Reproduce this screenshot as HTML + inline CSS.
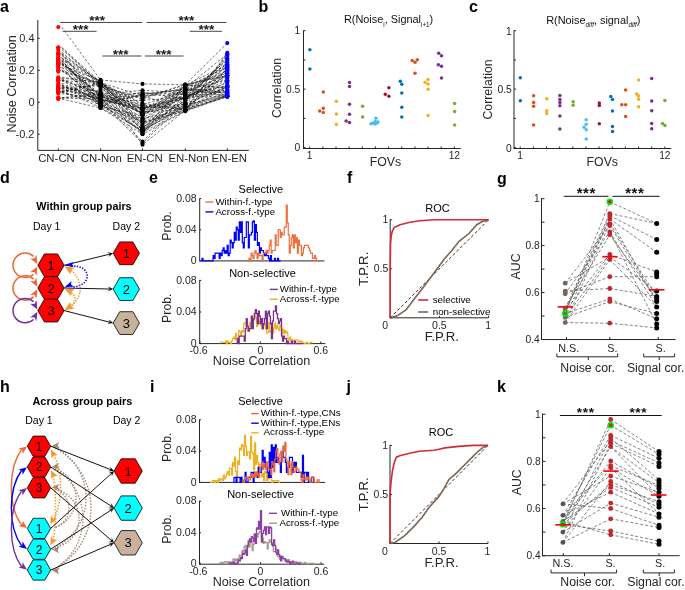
<!DOCTYPE html>
<html><head><meta charset="utf-8"><style>
html,body{margin:0;padding:0;background:#fff;}
svg{display:block;font-family:"Liberation Sans", sans-serif;will-change:transform;}
</style></head><body>
<svg width="685" height="590" viewBox="0 0 685 590">
<rect width="685" height="590" fill="#fff"/>
<text x="0.00" y="12.00" font-size="16" text-anchor="start" font-weight="bold" fill="#000" >a</text>
<polyline points="61.8,27.1 100.5,79.9 142.5,83.9 185.3,84.7 227.3,43.1" fill="none" stroke="#111" stroke-width="0.65" stroke-dasharray="2.6,1.8" opacity="0.9"/>
<polyline points="61.8,49.5 100.5,83.1 142.5,144.7 185.3,110.3 227.3,52.7" fill="none" stroke="#111" stroke-width="0.65" stroke-dasharray="2.6,1.8" opacity="0.9"/>
<polyline points="61.8,54.3 100.5,102.3 142.5,143.1 185.3,102.3 227.3,55.9" fill="none" stroke="#111" stroke-width="0.65" stroke-dasharray="2.6,1.8" opacity="0.9"/>
<polyline points="61.8,99.1 100.5,107.9 142.5,134.3 185.3,111.1 227.3,96.7" fill="none" stroke="#111" stroke-width="0.65" stroke-dasharray="2.6,1.8" opacity="0.9"/>
<polyline points="61.8,62.3 100.5,94.3 142.5,90.3 185.3,92.7 227.3,63.9" fill="none" stroke="#111" stroke-width="0.65" stroke-dasharray="2.6,1.8" opacity="0.9"/>
<polyline points="61.8,83.1 100.5,100.7 142.5,141.5 185.3,99.1 227.3,59.1" fill="none" stroke="#111" stroke-width="0.65" stroke-dasharray="2.6,1.8" opacity="0.9"/>
<polyline points="61.8,63.7 100.5,96.3 142.5,108.5 185.3,98.8 227.3,91.1" fill="none" stroke="#111" stroke-width="0.65" stroke-dasharray="2.6,1.8" opacity="0.9"/>
<polyline points="61.8,57.8 100.5,88.9 142.5,109.0 185.3,96.8 227.3,62.3" fill="none" stroke="#111" stroke-width="0.65" stroke-dasharray="2.6,1.8" opacity="0.9"/>
<polyline points="61.8,61.2 100.5,100.1 142.5,131.5 185.3,99.7 227.3,69.8" fill="none" stroke="#111" stroke-width="0.65" stroke-dasharray="2.6,1.8" opacity="0.9"/>
<polyline points="61.8,91.2 100.5,94.6 142.5,104.9 185.3,90.3 227.3,79.9" fill="none" stroke="#111" stroke-width="0.65" stroke-dasharray="2.6,1.8" opacity="0.9"/>
<polyline points="61.8,53.6 100.5,99.4 142.5,108.1 185.3,95.3 227.3,85.3" fill="none" stroke="#111" stroke-width="0.65" stroke-dasharray="2.6,1.8" opacity="0.9"/>
<polyline points="61.8,55.4 100.5,82.2 142.5,105.1 185.3,109.4 227.3,73.1" fill="none" stroke="#111" stroke-width="0.65" stroke-dasharray="2.6,1.8" opacity="0.9"/>
<polyline points="61.8,65.4 100.5,80.9 142.5,127.5 185.3,100.6 227.3,74.9" fill="none" stroke="#111" stroke-width="0.65" stroke-dasharray="2.6,1.8" opacity="0.9"/>
<polyline points="61.8,97.9 100.5,95.3 142.5,129.1 185.3,109.5 227.3,69.1" fill="none" stroke="#111" stroke-width="0.65" stroke-dasharray="2.6,1.8" opacity="0.9"/>
<polyline points="61.8,92.4 100.5,101.2 142.5,96.0 185.3,108.9 227.3,85.6" fill="none" stroke="#111" stroke-width="0.65" stroke-dasharray="2.6,1.8" opacity="0.9"/>
<polyline points="61.8,70.5 100.5,83.9 142.5,113.6 185.3,103.5 227.3,87.0" fill="none" stroke="#111" stroke-width="0.65" stroke-dasharray="2.6,1.8" opacity="0.9"/>
<polyline points="61.8,80.4 100.5,83.8 142.5,130.7 185.3,106.3 227.3,93.1" fill="none" stroke="#111" stroke-width="0.65" stroke-dasharray="2.6,1.8" opacity="0.9"/>
<polyline points="61.8,87.0 100.5,94.7 142.5,122.7 185.3,111.0 227.3,86.9" fill="none" stroke="#111" stroke-width="0.65" stroke-dasharray="2.6,1.8" opacity="0.9"/>
<polyline points="61.8,79.9 100.5,92.5 142.5,117.7 185.3,97.1 227.3,77.7" fill="none" stroke="#111" stroke-width="0.65" stroke-dasharray="2.6,1.8" opacity="0.9"/>
<polyline points="61.8,63.9 100.5,106.4 142.5,115.6 185.3,87.3 227.3,67.3" fill="none" stroke="#111" stroke-width="0.65" stroke-dasharray="2.6,1.8" opacity="0.9"/>
<polyline points="61.8,78.7 100.5,97.0 142.5,106.4 185.3,109.4 227.3,96.3" fill="none" stroke="#111" stroke-width="0.65" stroke-dasharray="2.6,1.8" opacity="0.9"/>
<polyline points="61.8,88.2 100.5,103.5 142.5,132.0 185.3,111.1 227.3,95.0" fill="none" stroke="#111" stroke-width="0.65" stroke-dasharray="2.6,1.8" opacity="0.9"/>
<polyline points="61.8,93.8 100.5,98.0 142.5,95.8 185.3,94.4 227.3,95.0" fill="none" stroke="#111" stroke-width="0.65" stroke-dasharray="2.6,1.8" opacity="0.9"/>
<polyline points="61.8,86.0 100.5,98.5 142.5,128.9 185.3,88.0 227.3,54.0" fill="none" stroke="#111" stroke-width="0.65" stroke-dasharray="2.6,1.8" opacity="0.9"/>
<polyline points="61.8,59.9 100.5,105.6 142.5,119.2 185.3,103.9 227.3,65.3" fill="none" stroke="#111" stroke-width="0.65" stroke-dasharray="2.6,1.8" opacity="0.9"/>
<polyline points="61.8,90.7 100.5,107.3 142.5,121.6 185.3,107.1 227.3,81.4" fill="none" stroke="#111" stroke-width="0.65" stroke-dasharray="2.6,1.8" opacity="0.9"/>
<polyline points="61.8,97.7 100.5,93.5 142.5,113.6 185.3,92.2 227.3,92.3" fill="none" stroke="#111" stroke-width="0.65" stroke-dasharray="2.6,1.8" opacity="0.9"/>
<polyline points="61.8,80.0 100.5,103.4 142.5,121.5 185.3,89.9 227.3,90.2" fill="none" stroke="#111" stroke-width="0.65" stroke-dasharray="2.6,1.8" opacity="0.9"/>
<polyline points="61.8,87.5 100.5,85.8 142.5,113.8 185.3,89.2 227.3,66.0" fill="none" stroke="#111" stroke-width="0.65" stroke-dasharray="2.6,1.8" opacity="0.9"/>
<polyline points="61.8,60.6 100.5,101.7 142.5,118.7 185.3,110.3 227.3,96.6" fill="none" stroke="#111" stroke-width="0.65" stroke-dasharray="2.6,1.8" opacity="0.9"/>
<polyline points="61.8,84.6 100.5,100.9 142.5,92.2 185.3,98.9 227.3,58.0" fill="none" stroke="#111" stroke-width="0.65" stroke-dasharray="2.6,1.8" opacity="0.9"/>
<polyline points="61.8,47.7 100.5,81.9 142.5,124.6 185.3,104.9 227.3,94.0" fill="none" stroke="#111" stroke-width="0.65" stroke-dasharray="2.6,1.8" opacity="0.9"/>
<polyline points="61.8,88.5 100.5,90.9 142.5,114.1 185.3,98.1 227.3,75.8" fill="none" stroke="#111" stroke-width="0.65" stroke-dasharray="2.6,1.8" opacity="0.9"/>
<polyline points="61.8,57.5 100.5,105.6 142.5,94.3 185.3,89.8 227.3,70.2" fill="none" stroke="#111" stroke-width="0.65" stroke-dasharray="2.6,1.8" opacity="0.9"/>
<polyline points="61.8,67.5 100.5,86.4 142.5,99.1 185.3,84.7 227.3,87.8" fill="none" stroke="#111" stroke-width="0.65" stroke-dasharray="2.6,1.8" opacity="0.9"/>
<polyline points="61.8,78.2 100.5,82.1 142.5,126.8 185.3,107.6 227.3,95.0" fill="none" stroke="#111" stroke-width="0.65" stroke-dasharray="2.6,1.8" opacity="0.9"/>
<polyline points="61.8,52.0 100.5,86.0 142.5,97.9 185.3,84.4 227.3,75.5" fill="none" stroke="#111" stroke-width="0.65" stroke-dasharray="2.6,1.8" opacity="0.9"/>
<polyline points="61.8,80.9 100.5,93.0 142.5,133.7 185.3,84.7 227.3,75.9" fill="none" stroke="#111" stroke-width="0.65" stroke-dasharray="2.6,1.8" opacity="0.9"/>
<polyline points="61.8,71.7 100.5,82.5 142.5,95.9 185.3,88.6 227.3,93.6" fill="none" stroke="#111" stroke-width="0.65" stroke-dasharray="2.6,1.8" opacity="0.9"/>
<polyline points="61.8,86.0 100.5,99.9 142.5,108.5 185.3,104.0 227.3,86.9" fill="none" stroke="#111" stroke-width="0.65" stroke-dasharray="2.6,1.8" opacity="0.9"/>
<polyline points="61.8,92.3 100.5,83.1 142.5,114.1 185.3,95.2 227.3,60.3" fill="none" stroke="#111" stroke-width="0.65" stroke-dasharray="2.6,1.8" opacity="0.9"/>
<polyline points="61.8,77.2 100.5,82.9 142.5,110.9 185.3,96.9 227.3,96.7" fill="none" stroke="#111" stroke-width="0.65" stroke-dasharray="2.6,1.8" opacity="0.9"/>
<polyline points="61.8,67.4 100.5,107.8 142.5,130.2 185.3,98.2 227.3,71.7" fill="none" stroke="#111" stroke-width="0.65" stroke-dasharray="2.6,1.8" opacity="0.9"/>
<polyline points="61.8,70.2 100.5,99.0 142.5,109.9 185.3,89.8 227.3,95.7" fill="none" stroke="#111" stroke-width="0.65" stroke-dasharray="2.6,1.8" opacity="0.9"/>
<polyline points="61.8,70.0 100.5,101.1 142.5,100.3 185.3,97.3 227.3,80.5" fill="none" stroke="#111" stroke-width="0.65" stroke-dasharray="2.6,1.8" opacity="0.9"/>
<polyline points="61.8,59.6 100.5,83.1 142.5,107.3 185.3,97.3 227.3,82.8" fill="none" stroke="#111" stroke-width="0.65" stroke-dasharray="2.6,1.8" opacity="0.9"/>
<polyline points="61.8,63.1 100.5,95.6 142.5,113.3 185.3,85.5 227.3,73.2" fill="none" stroke="#111" stroke-width="0.65" stroke-dasharray="2.6,1.8" opacity="0.9"/>
<polyline points="61.8,53.5 100.5,82.3 142.5,109.7 185.3,85.4 227.3,64.6" fill="none" stroke="#111" stroke-width="0.65" stroke-dasharray="2.6,1.8" opacity="0.9"/>
<polyline points="61.8,92.0 100.5,104.6 142.5,131.1 185.3,104.6 227.3,96.2" fill="none" stroke="#111" stroke-width="0.65" stroke-dasharray="2.6,1.8" opacity="0.9"/>
<polyline points="61.8,64.3 100.5,86.6 142.5,130.6 185.3,91.6 227.3,75.4" fill="none" stroke="#111" stroke-width="0.65" stroke-dasharray="2.6,1.8" opacity="0.9"/>
<polyline points="61.8,91.7 100.5,83.9 142.5,129.0 185.3,85.2 227.3,87.7" fill="none" stroke="#111" stroke-width="0.65" stroke-dasharray="2.6,1.8" opacity="0.9"/>
<polyline points="61.8,47.4 100.5,85.3 142.5,115.3 185.3,97.1 227.3,89.8" fill="none" stroke="#111" stroke-width="0.65" stroke-dasharray="2.6,1.8" opacity="0.9"/>
<polyline points="61.8,88.9 100.5,99.2 142.5,133.4 185.3,96.0 227.3,86.0" fill="none" stroke="#111" stroke-width="0.65" stroke-dasharray="2.6,1.8" opacity="0.9"/>
<polyline points="61.8,98.2 100.5,98.9 142.5,111.8 185.3,109.4 227.3,54.6" fill="none" stroke="#111" stroke-width="0.65" stroke-dasharray="2.6,1.8" opacity="0.9"/>
<polyline points="61.8,58.1 100.5,81.5 142.5,122.6 185.3,110.0 227.3,68.4" fill="none" stroke="#111" stroke-width="0.65" stroke-dasharray="2.6,1.8" opacity="0.9"/>
<polyline points="61.8,85.0 100.5,104.4 142.5,94.2 185.3,88.8 227.3,92.4" fill="none" stroke="#111" stroke-width="0.65" stroke-dasharray="2.6,1.8" opacity="0.9"/>
<polyline points="61.8,91.3 100.5,82.9 142.5,103.5 185.3,108.7 227.3,96.4" fill="none" stroke="#111" stroke-width="0.65" stroke-dasharray="2.6,1.8" opacity="0.9"/>
<polyline points="61.8,63.3 100.5,96.3 142.5,93.0 185.3,93.8 227.3,67.0" fill="none" stroke="#111" stroke-width="0.65" stroke-dasharray="2.6,1.8" opacity="0.9"/>
<circle cx="58.30" cy="27.10" r="2.05" fill="#ff0000" stroke="none" stroke-width="0"/>
<circle cx="58.30" cy="49.50" r="2.05" fill="#ff0000" stroke="none" stroke-width="0"/>
<circle cx="58.30" cy="54.30" r="2.05" fill="#ff0000" stroke="none" stroke-width="0"/>
<circle cx="58.30" cy="99.10" r="2.05" fill="#ff0000" stroke="none" stroke-width="0"/>
<circle cx="58.30" cy="62.30" r="2.05" fill="#ff0000" stroke="none" stroke-width="0"/>
<circle cx="58.30" cy="83.10" r="2.05" fill="#ff0000" stroke="none" stroke-width="0"/>
<circle cx="58.30" cy="63.72" r="2.05" fill="#ff0000" stroke="none" stroke-width="0"/>
<circle cx="58.30" cy="57.79" r="2.05" fill="#ff0000" stroke="none" stroke-width="0"/>
<circle cx="58.30" cy="61.17" r="2.05" fill="#ff0000" stroke="none" stroke-width="0"/>
<circle cx="58.30" cy="91.20" r="2.05" fill="#ff0000" stroke="none" stroke-width="0"/>
<circle cx="58.30" cy="53.58" r="2.05" fill="#ff0000" stroke="none" stroke-width="0"/>
<circle cx="58.30" cy="55.42" r="2.05" fill="#ff0000" stroke="none" stroke-width="0"/>
<circle cx="58.30" cy="65.45" r="2.05" fill="#ff0000" stroke="none" stroke-width="0"/>
<circle cx="58.30" cy="97.93" r="2.05" fill="#ff0000" stroke="none" stroke-width="0"/>
<circle cx="58.30" cy="92.37" r="2.05" fill="#ff0000" stroke="none" stroke-width="0"/>
<circle cx="58.30" cy="70.53" r="2.05" fill="#ff0000" stroke="none" stroke-width="0"/>
<circle cx="58.30" cy="80.44" r="2.05" fill="#ff0000" stroke="none" stroke-width="0"/>
<circle cx="58.30" cy="86.97" r="2.05" fill="#ff0000" stroke="none" stroke-width="0"/>
<circle cx="58.30" cy="79.90" r="2.05" fill="#ff0000" stroke="none" stroke-width="0"/>
<circle cx="58.30" cy="63.94" r="2.05" fill="#ff0000" stroke="none" stroke-width="0"/>
<circle cx="58.30" cy="78.70" r="2.05" fill="#ff0000" stroke="none" stroke-width="0"/>
<circle cx="58.30" cy="88.24" r="2.05" fill="#ff0000" stroke="none" stroke-width="0"/>
<circle cx="58.30" cy="93.82" r="2.05" fill="#ff0000" stroke="none" stroke-width="0"/>
<circle cx="58.30" cy="85.98" r="2.05" fill="#ff0000" stroke="none" stroke-width="0"/>
<circle cx="58.30" cy="59.90" r="2.05" fill="#ff0000" stroke="none" stroke-width="0"/>
<circle cx="58.30" cy="90.71" r="2.05" fill="#ff0000" stroke="none" stroke-width="0"/>
<circle cx="58.30" cy="97.69" r="2.05" fill="#ff0000" stroke="none" stroke-width="0"/>
<circle cx="58.30" cy="80.03" r="2.05" fill="#ff0000" stroke="none" stroke-width="0"/>
<circle cx="58.30" cy="87.50" r="2.05" fill="#ff0000" stroke="none" stroke-width="0"/>
<circle cx="58.30" cy="60.63" r="2.05" fill="#ff0000" stroke="none" stroke-width="0"/>
<circle cx="58.30" cy="84.57" r="2.05" fill="#ff0000" stroke="none" stroke-width="0"/>
<circle cx="58.30" cy="47.72" r="2.05" fill="#ff0000" stroke="none" stroke-width="0"/>
<circle cx="58.30" cy="88.47" r="2.05" fill="#ff0000" stroke="none" stroke-width="0"/>
<circle cx="58.30" cy="57.52" r="2.05" fill="#ff0000" stroke="none" stroke-width="0"/>
<circle cx="58.30" cy="67.47" r="2.05" fill="#ff0000" stroke="none" stroke-width="0"/>
<circle cx="58.30" cy="78.23" r="2.05" fill="#ff0000" stroke="none" stroke-width="0"/>
<circle cx="58.30" cy="52.05" r="2.05" fill="#ff0000" stroke="none" stroke-width="0"/>
<circle cx="58.30" cy="80.88" r="2.05" fill="#ff0000" stroke="none" stroke-width="0"/>
<circle cx="58.30" cy="71.72" r="2.05" fill="#ff0000" stroke="none" stroke-width="0"/>
<circle cx="58.30" cy="86.00" r="2.05" fill="#ff0000" stroke="none" stroke-width="0"/>
<circle cx="58.30" cy="92.28" r="2.05" fill="#ff0000" stroke="none" stroke-width="0"/>
<circle cx="58.30" cy="77.23" r="2.05" fill="#ff0000" stroke="none" stroke-width="0"/>
<circle cx="58.30" cy="67.36" r="2.05" fill="#ff0000" stroke="none" stroke-width="0"/>
<circle cx="58.30" cy="70.16" r="2.05" fill="#ff0000" stroke="none" stroke-width="0"/>
<circle cx="58.30" cy="69.96" r="2.05" fill="#ff0000" stroke="none" stroke-width="0"/>
<circle cx="58.30" cy="59.58" r="2.05" fill="#ff0000" stroke="none" stroke-width="0"/>
<circle cx="58.30" cy="63.08" r="2.05" fill="#ff0000" stroke="none" stroke-width="0"/>
<circle cx="58.30" cy="53.52" r="2.05" fill="#ff0000" stroke="none" stroke-width="0"/>
<circle cx="58.30" cy="91.97" r="2.05" fill="#ff0000" stroke="none" stroke-width="0"/>
<circle cx="58.30" cy="64.29" r="2.05" fill="#ff0000" stroke="none" stroke-width="0"/>
<circle cx="58.30" cy="91.67" r="2.05" fill="#ff0000" stroke="none" stroke-width="0"/>
<circle cx="58.30" cy="47.35" r="2.05" fill="#ff0000" stroke="none" stroke-width="0"/>
<circle cx="58.30" cy="88.92" r="2.05" fill="#ff0000" stroke="none" stroke-width="0"/>
<circle cx="58.30" cy="98.16" r="2.05" fill="#ff0000" stroke="none" stroke-width="0"/>
<circle cx="58.30" cy="58.11" r="2.05" fill="#ff0000" stroke="none" stroke-width="0"/>
<circle cx="58.30" cy="85.04" r="2.05" fill="#ff0000" stroke="none" stroke-width="0"/>
<circle cx="58.30" cy="91.33" r="2.05" fill="#ff0000" stroke="none" stroke-width="0"/>
<circle cx="58.30" cy="63.31" r="2.05" fill="#ff0000" stroke="none" stroke-width="0"/>
<circle cx="100.50" cy="79.90" r="2.05" fill="#000" stroke="none" stroke-width="0"/>
<circle cx="100.50" cy="83.10" r="2.05" fill="#000" stroke="none" stroke-width="0"/>
<circle cx="100.50" cy="102.30" r="2.05" fill="#000" stroke="none" stroke-width="0"/>
<circle cx="100.50" cy="107.90" r="2.05" fill="#000" stroke="none" stroke-width="0"/>
<circle cx="100.50" cy="94.30" r="2.05" fill="#000" stroke="none" stroke-width="0"/>
<circle cx="100.50" cy="100.70" r="2.05" fill="#000" stroke="none" stroke-width="0"/>
<circle cx="100.50" cy="96.27" r="2.05" fill="#000" stroke="none" stroke-width="0"/>
<circle cx="100.50" cy="88.89" r="2.05" fill="#000" stroke="none" stroke-width="0"/>
<circle cx="100.50" cy="100.07" r="2.05" fill="#000" stroke="none" stroke-width="0"/>
<circle cx="100.50" cy="94.60" r="2.05" fill="#000" stroke="none" stroke-width="0"/>
<circle cx="100.50" cy="99.37" r="2.05" fill="#000" stroke="none" stroke-width="0"/>
<circle cx="100.50" cy="82.20" r="2.05" fill="#000" stroke="none" stroke-width="0"/>
<circle cx="100.50" cy="80.89" r="2.05" fill="#000" stroke="none" stroke-width="0"/>
<circle cx="100.50" cy="95.34" r="2.05" fill="#000" stroke="none" stroke-width="0"/>
<circle cx="100.50" cy="101.16" r="2.05" fill="#000" stroke="none" stroke-width="0"/>
<circle cx="100.50" cy="83.87" r="2.05" fill="#000" stroke="none" stroke-width="0"/>
<circle cx="100.50" cy="83.85" r="2.05" fill="#000" stroke="none" stroke-width="0"/>
<circle cx="100.50" cy="94.71" r="2.05" fill="#000" stroke="none" stroke-width="0"/>
<circle cx="100.50" cy="92.50" r="2.05" fill="#000" stroke="none" stroke-width="0"/>
<circle cx="100.50" cy="106.43" r="2.05" fill="#000" stroke="none" stroke-width="0"/>
<circle cx="100.50" cy="97.05" r="2.05" fill="#000" stroke="none" stroke-width="0"/>
<circle cx="100.50" cy="103.49" r="2.05" fill="#000" stroke="none" stroke-width="0"/>
<circle cx="100.50" cy="98.01" r="2.05" fill="#000" stroke="none" stroke-width="0"/>
<circle cx="100.50" cy="98.45" r="2.05" fill="#000" stroke="none" stroke-width="0"/>
<circle cx="100.50" cy="105.56" r="2.05" fill="#000" stroke="none" stroke-width="0"/>
<circle cx="100.50" cy="107.27" r="2.05" fill="#000" stroke="none" stroke-width="0"/>
<circle cx="100.50" cy="93.54" r="2.05" fill="#000" stroke="none" stroke-width="0"/>
<circle cx="100.50" cy="103.36" r="2.05" fill="#000" stroke="none" stroke-width="0"/>
<circle cx="100.50" cy="85.83" r="2.05" fill="#000" stroke="none" stroke-width="0"/>
<circle cx="100.50" cy="101.73" r="2.05" fill="#000" stroke="none" stroke-width="0"/>
<circle cx="100.50" cy="100.85" r="2.05" fill="#000" stroke="none" stroke-width="0"/>
<circle cx="100.50" cy="81.92" r="2.05" fill="#000" stroke="none" stroke-width="0"/>
<circle cx="100.50" cy="90.93" r="2.05" fill="#000" stroke="none" stroke-width="0"/>
<circle cx="100.50" cy="105.59" r="2.05" fill="#000" stroke="none" stroke-width="0"/>
<circle cx="100.50" cy="86.44" r="2.05" fill="#000" stroke="none" stroke-width="0"/>
<circle cx="100.50" cy="82.15" r="2.05" fill="#000" stroke="none" stroke-width="0"/>
<circle cx="100.50" cy="85.96" r="2.05" fill="#000" stroke="none" stroke-width="0"/>
<circle cx="100.50" cy="92.98" r="2.05" fill="#000" stroke="none" stroke-width="0"/>
<circle cx="100.50" cy="82.51" r="2.05" fill="#000" stroke="none" stroke-width="0"/>
<circle cx="100.50" cy="99.93" r="2.05" fill="#000" stroke="none" stroke-width="0"/>
<circle cx="100.50" cy="83.15" r="2.05" fill="#000" stroke="none" stroke-width="0"/>
<circle cx="100.50" cy="82.94" r="2.05" fill="#000" stroke="none" stroke-width="0"/>
<circle cx="100.50" cy="107.79" r="2.05" fill="#000" stroke="none" stroke-width="0"/>
<circle cx="100.50" cy="99.03" r="2.05" fill="#000" stroke="none" stroke-width="0"/>
<circle cx="100.50" cy="101.14" r="2.05" fill="#000" stroke="none" stroke-width="0"/>
<circle cx="100.50" cy="83.08" r="2.05" fill="#000" stroke="none" stroke-width="0"/>
<circle cx="100.50" cy="95.60" r="2.05" fill="#000" stroke="none" stroke-width="0"/>
<circle cx="100.50" cy="82.27" r="2.05" fill="#000" stroke="none" stroke-width="0"/>
<circle cx="100.50" cy="104.59" r="2.05" fill="#000" stroke="none" stroke-width="0"/>
<circle cx="100.50" cy="86.58" r="2.05" fill="#000" stroke="none" stroke-width="0"/>
<circle cx="100.50" cy="83.89" r="2.05" fill="#000" stroke="none" stroke-width="0"/>
<circle cx="100.50" cy="85.26" r="2.05" fill="#000" stroke="none" stroke-width="0"/>
<circle cx="100.50" cy="99.24" r="2.05" fill="#000" stroke="none" stroke-width="0"/>
<circle cx="100.50" cy="98.88" r="2.05" fill="#000" stroke="none" stroke-width="0"/>
<circle cx="100.50" cy="81.47" r="2.05" fill="#000" stroke="none" stroke-width="0"/>
<circle cx="100.50" cy="104.38" r="2.05" fill="#000" stroke="none" stroke-width="0"/>
<circle cx="100.50" cy="82.90" r="2.05" fill="#000" stroke="none" stroke-width="0"/>
<circle cx="100.50" cy="96.33" r="2.05" fill="#000" stroke="none" stroke-width="0"/>
<circle cx="142.50" cy="83.90" r="2.05" fill="#000" stroke="none" stroke-width="0"/>
<circle cx="142.50" cy="144.70" r="2.05" fill="#000" stroke="none" stroke-width="0"/>
<circle cx="142.50" cy="143.10" r="2.05" fill="#000" stroke="none" stroke-width="0"/>
<circle cx="142.50" cy="134.30" r="2.05" fill="#000" stroke="none" stroke-width="0"/>
<circle cx="142.50" cy="90.30" r="2.05" fill="#000" stroke="none" stroke-width="0"/>
<circle cx="142.50" cy="141.50" r="2.05" fill="#000" stroke="none" stroke-width="0"/>
<circle cx="142.50" cy="108.54" r="2.05" fill="#000" stroke="none" stroke-width="0"/>
<circle cx="142.50" cy="109.03" r="2.05" fill="#000" stroke="none" stroke-width="0"/>
<circle cx="142.50" cy="131.47" r="2.05" fill="#000" stroke="none" stroke-width="0"/>
<circle cx="142.50" cy="104.90" r="2.05" fill="#000" stroke="none" stroke-width="0"/>
<circle cx="142.50" cy="108.15" r="2.05" fill="#000" stroke="none" stroke-width="0"/>
<circle cx="142.50" cy="105.08" r="2.05" fill="#000" stroke="none" stroke-width="0"/>
<circle cx="142.50" cy="127.47" r="2.05" fill="#000" stroke="none" stroke-width="0"/>
<circle cx="142.50" cy="129.15" r="2.05" fill="#000" stroke="none" stroke-width="0"/>
<circle cx="142.50" cy="95.96" r="2.05" fill="#000" stroke="none" stroke-width="0"/>
<circle cx="142.50" cy="113.56" r="2.05" fill="#000" stroke="none" stroke-width="0"/>
<circle cx="142.50" cy="130.68" r="2.05" fill="#000" stroke="none" stroke-width="0"/>
<circle cx="142.50" cy="122.74" r="2.05" fill="#000" stroke="none" stroke-width="0"/>
<circle cx="142.50" cy="117.73" r="2.05" fill="#000" stroke="none" stroke-width="0"/>
<circle cx="142.50" cy="115.58" r="2.05" fill="#000" stroke="none" stroke-width="0"/>
<circle cx="142.50" cy="106.39" r="2.05" fill="#000" stroke="none" stroke-width="0"/>
<circle cx="142.50" cy="131.99" r="2.05" fill="#000" stroke="none" stroke-width="0"/>
<circle cx="142.50" cy="95.83" r="2.05" fill="#000" stroke="none" stroke-width="0"/>
<circle cx="142.50" cy="128.89" r="2.05" fill="#000" stroke="none" stroke-width="0"/>
<circle cx="142.50" cy="119.22" r="2.05" fill="#000" stroke="none" stroke-width="0"/>
<circle cx="142.50" cy="121.62" r="2.05" fill="#000" stroke="none" stroke-width="0"/>
<circle cx="142.50" cy="113.58" r="2.05" fill="#000" stroke="none" stroke-width="0"/>
<circle cx="142.50" cy="121.52" r="2.05" fill="#000" stroke="none" stroke-width="0"/>
<circle cx="142.50" cy="113.84" r="2.05" fill="#000" stroke="none" stroke-width="0"/>
<circle cx="142.50" cy="118.66" r="2.05" fill="#000" stroke="none" stroke-width="0"/>
<circle cx="142.50" cy="92.21" r="2.05" fill="#000" stroke="none" stroke-width="0"/>
<circle cx="142.50" cy="124.60" r="2.05" fill="#000" stroke="none" stroke-width="0"/>
<circle cx="142.50" cy="114.13" r="2.05" fill="#000" stroke="none" stroke-width="0"/>
<circle cx="142.50" cy="94.27" r="2.05" fill="#000" stroke="none" stroke-width="0"/>
<circle cx="142.50" cy="99.06" r="2.05" fill="#000" stroke="none" stroke-width="0"/>
<circle cx="142.50" cy="126.82" r="2.05" fill="#000" stroke="none" stroke-width="0"/>
<circle cx="142.50" cy="97.93" r="2.05" fill="#000" stroke="none" stroke-width="0"/>
<circle cx="142.50" cy="133.67" r="2.05" fill="#000" stroke="none" stroke-width="0"/>
<circle cx="142.50" cy="95.94" r="2.05" fill="#000" stroke="none" stroke-width="0"/>
<circle cx="142.50" cy="108.50" r="2.05" fill="#000" stroke="none" stroke-width="0"/>
<circle cx="142.50" cy="114.14" r="2.05" fill="#000" stroke="none" stroke-width="0"/>
<circle cx="142.50" cy="110.90" r="2.05" fill="#000" stroke="none" stroke-width="0"/>
<circle cx="142.50" cy="130.16" r="2.05" fill="#000" stroke="none" stroke-width="0"/>
<circle cx="142.50" cy="109.86" r="2.05" fill="#000" stroke="none" stroke-width="0"/>
<circle cx="142.50" cy="100.32" r="2.05" fill="#000" stroke="none" stroke-width="0"/>
<circle cx="142.50" cy="107.35" r="2.05" fill="#000" stroke="none" stroke-width="0"/>
<circle cx="142.50" cy="113.27" r="2.05" fill="#000" stroke="none" stroke-width="0"/>
<circle cx="142.50" cy="109.68" r="2.05" fill="#000" stroke="none" stroke-width="0"/>
<circle cx="142.50" cy="131.11" r="2.05" fill="#000" stroke="none" stroke-width="0"/>
<circle cx="142.50" cy="130.59" r="2.05" fill="#000" stroke="none" stroke-width="0"/>
<circle cx="142.50" cy="129.03" r="2.05" fill="#000" stroke="none" stroke-width="0"/>
<circle cx="142.50" cy="115.31" r="2.05" fill="#000" stroke="none" stroke-width="0"/>
<circle cx="142.50" cy="133.44" r="2.05" fill="#000" stroke="none" stroke-width="0"/>
<circle cx="142.50" cy="111.76" r="2.05" fill="#000" stroke="none" stroke-width="0"/>
<circle cx="142.50" cy="122.62" r="2.05" fill="#000" stroke="none" stroke-width="0"/>
<circle cx="142.50" cy="94.20" r="2.05" fill="#000" stroke="none" stroke-width="0"/>
<circle cx="142.50" cy="103.48" r="2.05" fill="#000" stroke="none" stroke-width="0"/>
<circle cx="142.50" cy="93.01" r="2.05" fill="#000" stroke="none" stroke-width="0"/>
<circle cx="185.30" cy="84.70" r="2.05" fill="#000" stroke="none" stroke-width="0"/>
<circle cx="185.30" cy="110.30" r="2.05" fill="#000" stroke="none" stroke-width="0"/>
<circle cx="185.30" cy="102.30" r="2.05" fill="#000" stroke="none" stroke-width="0"/>
<circle cx="185.30" cy="111.10" r="2.05" fill="#000" stroke="none" stroke-width="0"/>
<circle cx="185.30" cy="92.70" r="2.05" fill="#000" stroke="none" stroke-width="0"/>
<circle cx="185.30" cy="99.10" r="2.05" fill="#000" stroke="none" stroke-width="0"/>
<circle cx="185.30" cy="98.77" r="2.05" fill="#000" stroke="none" stroke-width="0"/>
<circle cx="185.30" cy="96.81" r="2.05" fill="#000" stroke="none" stroke-width="0"/>
<circle cx="185.30" cy="99.73" r="2.05" fill="#000" stroke="none" stroke-width="0"/>
<circle cx="185.30" cy="90.30" r="2.05" fill="#000" stroke="none" stroke-width="0"/>
<circle cx="185.30" cy="95.33" r="2.05" fill="#000" stroke="none" stroke-width="0"/>
<circle cx="185.30" cy="109.45" r="2.05" fill="#000" stroke="none" stroke-width="0"/>
<circle cx="185.30" cy="100.61" r="2.05" fill="#000" stroke="none" stroke-width="0"/>
<circle cx="185.30" cy="109.50" r="2.05" fill="#000" stroke="none" stroke-width="0"/>
<circle cx="185.30" cy="108.91" r="2.05" fill="#000" stroke="none" stroke-width="0"/>
<circle cx="185.30" cy="103.53" r="2.05" fill="#000" stroke="none" stroke-width="0"/>
<circle cx="185.30" cy="106.31" r="2.05" fill="#000" stroke="none" stroke-width="0"/>
<circle cx="185.30" cy="110.99" r="2.05" fill="#000" stroke="none" stroke-width="0"/>
<circle cx="185.30" cy="97.08" r="2.05" fill="#000" stroke="none" stroke-width="0"/>
<circle cx="185.30" cy="87.31" r="2.05" fill="#000" stroke="none" stroke-width="0"/>
<circle cx="185.30" cy="109.41" r="2.05" fill="#000" stroke="none" stroke-width="0"/>
<circle cx="185.30" cy="111.09" r="2.05" fill="#000" stroke="none" stroke-width="0"/>
<circle cx="185.30" cy="94.40" r="2.05" fill="#000" stroke="none" stroke-width="0"/>
<circle cx="185.30" cy="88.01" r="2.05" fill="#000" stroke="none" stroke-width="0"/>
<circle cx="185.30" cy="103.90" r="2.05" fill="#000" stroke="none" stroke-width="0"/>
<circle cx="185.30" cy="107.11" r="2.05" fill="#000" stroke="none" stroke-width="0"/>
<circle cx="185.30" cy="92.16" r="2.05" fill="#000" stroke="none" stroke-width="0"/>
<circle cx="185.30" cy="89.91" r="2.05" fill="#000" stroke="none" stroke-width="0"/>
<circle cx="185.30" cy="89.17" r="2.05" fill="#000" stroke="none" stroke-width="0"/>
<circle cx="185.30" cy="110.31" r="2.05" fill="#000" stroke="none" stroke-width="0"/>
<circle cx="185.30" cy="98.94" r="2.05" fill="#000" stroke="none" stroke-width="0"/>
<circle cx="185.30" cy="104.93" r="2.05" fill="#000" stroke="none" stroke-width="0"/>
<circle cx="185.30" cy="98.06" r="2.05" fill="#000" stroke="none" stroke-width="0"/>
<circle cx="185.30" cy="89.82" r="2.05" fill="#000" stroke="none" stroke-width="0"/>
<circle cx="185.30" cy="84.67" r="2.05" fill="#000" stroke="none" stroke-width="0"/>
<circle cx="185.30" cy="107.64" r="2.05" fill="#000" stroke="none" stroke-width="0"/>
<circle cx="185.30" cy="84.44" r="2.05" fill="#000" stroke="none" stroke-width="0"/>
<circle cx="185.30" cy="84.69" r="2.05" fill="#000" stroke="none" stroke-width="0"/>
<circle cx="185.30" cy="88.63" r="2.05" fill="#000" stroke="none" stroke-width="0"/>
<circle cx="185.30" cy="104.05" r="2.05" fill="#000" stroke="none" stroke-width="0"/>
<circle cx="185.30" cy="95.23" r="2.05" fill="#000" stroke="none" stroke-width="0"/>
<circle cx="185.30" cy="96.86" r="2.05" fill="#000" stroke="none" stroke-width="0"/>
<circle cx="185.30" cy="98.22" r="2.05" fill="#000" stroke="none" stroke-width="0"/>
<circle cx="185.30" cy="89.77" r="2.05" fill="#000" stroke="none" stroke-width="0"/>
<circle cx="185.30" cy="97.29" r="2.05" fill="#000" stroke="none" stroke-width="0"/>
<circle cx="185.30" cy="97.35" r="2.05" fill="#000" stroke="none" stroke-width="0"/>
<circle cx="185.30" cy="85.49" r="2.05" fill="#000" stroke="none" stroke-width="0"/>
<circle cx="185.30" cy="85.44" r="2.05" fill="#000" stroke="none" stroke-width="0"/>
<circle cx="185.30" cy="104.55" r="2.05" fill="#000" stroke="none" stroke-width="0"/>
<circle cx="185.30" cy="91.62" r="2.05" fill="#000" stroke="none" stroke-width="0"/>
<circle cx="185.30" cy="85.19" r="2.05" fill="#000" stroke="none" stroke-width="0"/>
<circle cx="185.30" cy="97.08" r="2.05" fill="#000" stroke="none" stroke-width="0"/>
<circle cx="185.30" cy="96.03" r="2.05" fill="#000" stroke="none" stroke-width="0"/>
<circle cx="185.30" cy="109.35" r="2.05" fill="#000" stroke="none" stroke-width="0"/>
<circle cx="185.30" cy="110.02" r="2.05" fill="#000" stroke="none" stroke-width="0"/>
<circle cx="185.30" cy="88.82" r="2.05" fill="#000" stroke="none" stroke-width="0"/>
<circle cx="185.30" cy="108.67" r="2.05" fill="#000" stroke="none" stroke-width="0"/>
<circle cx="185.30" cy="93.84" r="2.05" fill="#000" stroke="none" stroke-width="0"/>
<circle cx="227.30" cy="43.10" r="2.05" fill="#0000ff" stroke="none" stroke-width="0"/>
<circle cx="227.30" cy="52.70" r="2.05" fill="#0000ff" stroke="none" stroke-width="0"/>
<circle cx="227.30" cy="55.90" r="2.05" fill="#0000ff" stroke="none" stroke-width="0"/>
<circle cx="227.30" cy="96.70" r="2.05" fill="#0000ff" stroke="none" stroke-width="0"/>
<circle cx="227.30" cy="63.90" r="2.05" fill="#0000ff" stroke="none" stroke-width="0"/>
<circle cx="227.30" cy="59.10" r="2.05" fill="#0000ff" stroke="none" stroke-width="0"/>
<circle cx="227.30" cy="91.13" r="2.05" fill="#0000ff" stroke="none" stroke-width="0"/>
<circle cx="227.30" cy="62.26" r="2.05" fill="#0000ff" stroke="none" stroke-width="0"/>
<circle cx="227.30" cy="69.78" r="2.05" fill="#0000ff" stroke="none" stroke-width="0"/>
<circle cx="227.30" cy="79.94" r="2.05" fill="#0000ff" stroke="none" stroke-width="0"/>
<circle cx="227.30" cy="85.32" r="2.05" fill="#0000ff" stroke="none" stroke-width="0"/>
<circle cx="227.30" cy="73.06" r="2.05" fill="#0000ff" stroke="none" stroke-width="0"/>
<circle cx="227.30" cy="74.91" r="2.05" fill="#0000ff" stroke="none" stroke-width="0"/>
<circle cx="227.30" cy="69.11" r="2.05" fill="#0000ff" stroke="none" stroke-width="0"/>
<circle cx="227.30" cy="85.62" r="2.05" fill="#0000ff" stroke="none" stroke-width="0"/>
<circle cx="227.30" cy="87.00" r="2.05" fill="#0000ff" stroke="none" stroke-width="0"/>
<circle cx="227.30" cy="93.10" r="2.05" fill="#0000ff" stroke="none" stroke-width="0"/>
<circle cx="227.30" cy="86.86" r="2.05" fill="#0000ff" stroke="none" stroke-width="0"/>
<circle cx="227.30" cy="77.66" r="2.05" fill="#0000ff" stroke="none" stroke-width="0"/>
<circle cx="227.30" cy="67.27" r="2.05" fill="#0000ff" stroke="none" stroke-width="0"/>
<circle cx="227.30" cy="96.26" r="2.05" fill="#0000ff" stroke="none" stroke-width="0"/>
<circle cx="227.30" cy="94.96" r="2.05" fill="#0000ff" stroke="none" stroke-width="0"/>
<circle cx="227.30" cy="95.01" r="2.05" fill="#0000ff" stroke="none" stroke-width="0"/>
<circle cx="227.30" cy="54.01" r="2.05" fill="#0000ff" stroke="none" stroke-width="0"/>
<circle cx="227.30" cy="65.30" r="2.05" fill="#0000ff" stroke="none" stroke-width="0"/>
<circle cx="227.30" cy="81.39" r="2.05" fill="#0000ff" stroke="none" stroke-width="0"/>
<circle cx="227.30" cy="92.29" r="2.05" fill="#0000ff" stroke="none" stroke-width="0"/>
<circle cx="227.30" cy="90.15" r="2.05" fill="#0000ff" stroke="none" stroke-width="0"/>
<circle cx="227.30" cy="65.98" r="2.05" fill="#0000ff" stroke="none" stroke-width="0"/>
<circle cx="227.30" cy="96.60" r="2.05" fill="#0000ff" stroke="none" stroke-width="0"/>
<circle cx="227.30" cy="58.02" r="2.05" fill="#0000ff" stroke="none" stroke-width="0"/>
<circle cx="227.30" cy="93.98" r="2.05" fill="#0000ff" stroke="none" stroke-width="0"/>
<circle cx="227.30" cy="75.77" r="2.05" fill="#0000ff" stroke="none" stroke-width="0"/>
<circle cx="227.30" cy="70.20" r="2.05" fill="#0000ff" stroke="none" stroke-width="0"/>
<circle cx="227.30" cy="87.76" r="2.05" fill="#0000ff" stroke="none" stroke-width="0"/>
<circle cx="227.30" cy="94.96" r="2.05" fill="#0000ff" stroke="none" stroke-width="0"/>
<circle cx="227.30" cy="75.53" r="2.05" fill="#0000ff" stroke="none" stroke-width="0"/>
<circle cx="227.30" cy="75.95" r="2.05" fill="#0000ff" stroke="none" stroke-width="0"/>
<circle cx="227.30" cy="93.63" r="2.05" fill="#0000ff" stroke="none" stroke-width="0"/>
<circle cx="227.30" cy="86.85" r="2.05" fill="#0000ff" stroke="none" stroke-width="0"/>
<circle cx="227.30" cy="60.29" r="2.05" fill="#0000ff" stroke="none" stroke-width="0"/>
<circle cx="227.30" cy="96.65" r="2.05" fill="#0000ff" stroke="none" stroke-width="0"/>
<circle cx="227.30" cy="71.68" r="2.05" fill="#0000ff" stroke="none" stroke-width="0"/>
<circle cx="227.30" cy="95.75" r="2.05" fill="#0000ff" stroke="none" stroke-width="0"/>
<circle cx="227.30" cy="80.49" r="2.05" fill="#0000ff" stroke="none" stroke-width="0"/>
<circle cx="227.30" cy="82.85" r="2.05" fill="#0000ff" stroke="none" stroke-width="0"/>
<circle cx="227.30" cy="73.19" r="2.05" fill="#0000ff" stroke="none" stroke-width="0"/>
<circle cx="227.30" cy="64.58" r="2.05" fill="#0000ff" stroke="none" stroke-width="0"/>
<circle cx="227.30" cy="96.19" r="2.05" fill="#0000ff" stroke="none" stroke-width="0"/>
<circle cx="227.30" cy="75.37" r="2.05" fill="#0000ff" stroke="none" stroke-width="0"/>
<circle cx="227.30" cy="87.67" r="2.05" fill="#0000ff" stroke="none" stroke-width="0"/>
<circle cx="227.30" cy="89.83" r="2.05" fill="#0000ff" stroke="none" stroke-width="0"/>
<circle cx="227.30" cy="85.98" r="2.05" fill="#0000ff" stroke="none" stroke-width="0"/>
<circle cx="227.30" cy="54.59" r="2.05" fill="#0000ff" stroke="none" stroke-width="0"/>
<circle cx="227.30" cy="68.45" r="2.05" fill="#0000ff" stroke="none" stroke-width="0"/>
<circle cx="227.30" cy="92.37" r="2.05" fill="#0000ff" stroke="none" stroke-width="0"/>
<circle cx="227.30" cy="96.36" r="2.05" fill="#0000ff" stroke="none" stroke-width="0"/>
<circle cx="227.30" cy="67.04" r="2.05" fill="#0000ff" stroke="none" stroke-width="0"/>
<line x1="37.80" y1="20.00" x2="37.80" y2="150.40" stroke="#262626" stroke-width="1" />
<line x1="37.80" y1="150.40" x2="248.80" y2="150.40" stroke="#262626" stroke-width="1" />
<line x1="37.80" y1="134.30" x2="39.80" y2="134.30" stroke="#262626" stroke-width="1" />
<text x="34.50" y="138.20" font-size="11" text-anchor="end" font-weight="normal" fill="#262626" >-0.2</text>
<line x1="37.80" y1="102.30" x2="39.80" y2="102.30" stroke="#262626" stroke-width="1" />
<text x="34.50" y="106.20" font-size="11" text-anchor="end" font-weight="normal" fill="#262626" >0</text>
<line x1="37.80" y1="70.30" x2="39.80" y2="70.30" stroke="#262626" stroke-width="1" />
<text x="34.50" y="74.20" font-size="11" text-anchor="end" font-weight="normal" fill="#262626" >0.2</text>
<line x1="37.80" y1="38.30" x2="39.80" y2="38.30" stroke="#262626" stroke-width="1" />
<text x="34.50" y="42.20" font-size="11" text-anchor="end" font-weight="normal" fill="#262626" >0.4</text>
<line x1="58.30" y1="150.40" x2="58.30" y2="148.40" stroke="#262626" stroke-width="1" />
<line x1="100.50" y1="150.40" x2="100.50" y2="148.40" stroke="#262626" stroke-width="1" />
<line x1="142.50" y1="150.40" x2="142.50" y2="148.40" stroke="#262626" stroke-width="1" />
<line x1="185.30" y1="150.40" x2="185.30" y2="148.40" stroke="#262626" stroke-width="1" />
<line x1="227.30" y1="150.40" x2="227.30" y2="148.40" stroke="#262626" stroke-width="1" />
<text x="56.50" y="162.30" font-size="11.4" text-anchor="middle" font-weight="normal" fill="#262626" >CN-CN</text>
<text x="101.30" y="162.30" font-size="11.4" text-anchor="middle" font-weight="normal" fill="#262626" >CN-Non</text>
<text x="144.70" y="162.30" font-size="11.4" text-anchor="middle" font-weight="normal" fill="#262626" >EN-CN</text>
<text x="188.70" y="162.30" font-size="11.4" text-anchor="middle" font-weight="normal" fill="#262626" >EN-Non</text>
<text x="229.30" y="162.30" font-size="11.4" text-anchor="middle" font-weight="normal" fill="#262626" >EN-EN</text>
<text transform="translate(15.60,83.80) rotate(-90)" font-size="12.6" text-anchor="middle" fill="#262626">Noise Correlation</text>
<line x1="60.20" y1="22.50" x2="142.30" y2="22.50" stroke="#333" stroke-width="0.9" />
<text x="97.20" y="25.20" font-size="13.5" text-anchor="middle" font-weight="bold" fill="#1a1a1a" >***</text>
<line x1="146.60" y1="22.50" x2="226.30" y2="22.50" stroke="#333" stroke-width="0.9" />
<text x="186.30" y="25.20" font-size="13.5" text-anchor="middle" font-weight="bold" fill="#1a1a1a" >***</text>
<line x1="62.60" y1="31.30" x2="96.60" y2="31.30" stroke="#333" stroke-width="0.9" />
<text x="80.60" y="34.00" font-size="13.5" text-anchor="middle" font-weight="bold" fill="#1a1a1a" >***</text>
<line x1="189.80" y1="31.30" x2="222.00" y2="31.30" stroke="#333" stroke-width="0.9" />
<text x="206.40" y="34.00" font-size="13.5" text-anchor="middle" font-weight="bold" fill="#1a1a1a" >***</text>
<line x1="102.30" y1="56.00" x2="141.60" y2="56.00" stroke="#333" stroke-width="0.9" />
<text x="120.60" y="58.70" font-size="13.5" text-anchor="middle" font-weight="bold" fill="#1a1a1a" >***</text>
<line x1="144.90" y1="56.00" x2="183.60" y2="56.00" stroke="#333" stroke-width="0.9" />
<text x="163.60" y="58.70" font-size="13.5" text-anchor="middle" font-weight="bold" fill="#1a1a1a" >***</text>
<text x="258.60" y="12.00" font-size="16" text-anchor="start" font-weight="bold" fill="#000" >b</text>
<line x1="303.50" y1="30.30" x2="303.50" y2="149.00" stroke="#262626" stroke-width="1" />
<line x1="303.50" y1="148.50" x2="460.70" y2="148.50" stroke="#262626" stroke-width="1" />
<line x1="303.50" y1="147.60" x2="305.50" y2="147.60" stroke="#262626" stroke-width="1" />
<line x1="303.50" y1="118.38" x2="305.50" y2="118.38" stroke="#262626" stroke-width="1" />
<line x1="303.50" y1="89.15" x2="305.50" y2="89.15" stroke="#262626" stroke-width="1" />
<line x1="303.50" y1="59.92" x2="305.50" y2="59.92" stroke="#262626" stroke-width="1" />
<line x1="303.50" y1="30.70" x2="305.50" y2="30.70" stroke="#262626" stroke-width="1" />
<line x1="309.70" y1="148.50" x2="309.70" y2="146.50" stroke="#262626" stroke-width="1" />
<line x1="322.85" y1="148.50" x2="322.85" y2="146.50" stroke="#262626" stroke-width="1" />
<line x1="336.00" y1="148.50" x2="336.00" y2="146.50" stroke="#262626" stroke-width="1" />
<line x1="349.15" y1="148.50" x2="349.15" y2="146.50" stroke="#262626" stroke-width="1" />
<line x1="362.30" y1="148.50" x2="362.30" y2="146.50" stroke="#262626" stroke-width="1" />
<line x1="375.45" y1="148.50" x2="375.45" y2="146.50" stroke="#262626" stroke-width="1" />
<line x1="388.60" y1="148.50" x2="388.60" y2="146.50" stroke="#262626" stroke-width="1" />
<line x1="401.75" y1="148.50" x2="401.75" y2="146.50" stroke="#262626" stroke-width="1" />
<line x1="414.90" y1="148.50" x2="414.90" y2="146.50" stroke="#262626" stroke-width="1" />
<line x1="428.05" y1="148.50" x2="428.05" y2="146.50" stroke="#262626" stroke-width="1" />
<line x1="441.20" y1="148.50" x2="441.20" y2="146.50" stroke="#262626" stroke-width="1" />
<line x1="454.35" y1="148.50" x2="454.35" y2="146.50" stroke="#262626" stroke-width="1" />
<text x="300.30" y="151.00" font-size="10.3" text-anchor="end" font-weight="normal" fill="#262626" >0</text>
<text x="300.30" y="92.55" font-size="10.3" text-anchor="end" font-weight="normal" fill="#262626" >0.5</text>
<text x="300.30" y="34.10" font-size="10.3" text-anchor="end" font-weight="normal" fill="#262626" >1</text>
<text x="309.70" y="159.00" font-size="10.2" text-anchor="middle" font-weight="normal" fill="#262626" >1</text>
<text x="454.35" y="159.00" font-size="10.2" text-anchor="middle" font-weight="normal" fill="#262626" >12</text>
<text x="385.50" y="166.00" font-size="12.3" text-anchor="middle" font-weight="normal" fill="#262626" >FOVs</text>
<text transform="translate(281.00,88.00) rotate(-90)" font-size="12.3" text-anchor="middle" fill="#262626">Correlation</text>
<text x="388.6" y="23.3" font-size="10.9" text-anchor="middle" fill="#111">R(Noise<tspan font-size="6.3" dy="3.3">i</tspan><tspan dy="-3.3">, Signal</tspan><tspan font-size="6.3" dy="3.3">i+1</tspan><tspan dy="-3.3">)</tspan></text>
<circle cx="309.90" cy="49.80" r="1.75" fill="#0072BD" stroke="none" stroke-width="0"/>
<circle cx="309.90" cy="69.00" r="1.75" fill="#0072BD" stroke="none" stroke-width="0"/>
<circle cx="323.30" cy="91.90" r="1.75" fill="#D95319" stroke="none" stroke-width="0"/>
<circle cx="323.30" cy="108.20" r="1.75" fill="#D95319" stroke="none" stroke-width="0"/>
<circle cx="319.70" cy="110.90" r="1.75" fill="#D95319" stroke="none" stroke-width="0"/>
<circle cx="323.30" cy="112.60" r="1.75" fill="#D95319" stroke="none" stroke-width="0"/>
<circle cx="336.40" cy="101.20" r="1.75" fill="#EDB120" stroke="none" stroke-width="0"/>
<circle cx="336.40" cy="114.10" r="1.75" fill="#EDB120" stroke="none" stroke-width="0"/>
<circle cx="336.40" cy="124.50" r="1.75" fill="#EDB120" stroke="none" stroke-width="0"/>
<circle cx="349.50" cy="82.60" r="1.75" fill="#7E2F8E" stroke="none" stroke-width="0"/>
<circle cx="349.50" cy="86.40" r="1.75" fill="#7E2F8E" stroke="none" stroke-width="0"/>
<circle cx="349.50" cy="104.20" r="1.75" fill="#7E2F8E" stroke="none" stroke-width="0"/>
<circle cx="349.50" cy="114.30" r="1.75" fill="#7E2F8E" stroke="none" stroke-width="0"/>
<circle cx="346.10" cy="120.90" r="1.75" fill="#7E2F8E" stroke="none" stroke-width="0"/>
<circle cx="349.50" cy="122.60" r="1.75" fill="#7E2F8E" stroke="none" stroke-width="0"/>
<circle cx="362.60" cy="106.30" r="1.75" fill="#77AC30" stroke="none" stroke-width="0"/>
<circle cx="362.60" cy="117.10" r="1.75" fill="#77AC30" stroke="none" stroke-width="0"/>
<circle cx="375.90" cy="118.30" r="1.75" fill="#4DBEEE" stroke="none" stroke-width="0"/>
<circle cx="378.00" cy="122.10" r="1.75" fill="#4DBEEE" stroke="none" stroke-width="0"/>
<circle cx="375.30" cy="121.50" r="1.75" fill="#4DBEEE" stroke="none" stroke-width="0"/>
<circle cx="372.80" cy="123.00" r="1.75" fill="#4DBEEE" stroke="none" stroke-width="0"/>
<circle cx="371.00" cy="123.80" r="1.75" fill="#4DBEEE" stroke="none" stroke-width="0"/>
<circle cx="374.70" cy="124.00" r="1.75" fill="#4DBEEE" stroke="none" stroke-width="0"/>
<circle cx="376.80" cy="123.20" r="1.75" fill="#4DBEEE" stroke="none" stroke-width="0"/>
<circle cx="388.90" cy="87.80" r="1.75" fill="#A2142F" stroke="none" stroke-width="0"/>
<circle cx="385.30" cy="94.30" r="1.75" fill="#A2142F" stroke="none" stroke-width="0"/>
<circle cx="388.90" cy="96.20" r="1.75" fill="#A2142F" stroke="none" stroke-width="0"/>
<circle cx="400.30" cy="81.20" r="1.75" fill="#0072BD" stroke="none" stroke-width="0"/>
<circle cx="401.80" cy="84.20" r="1.75" fill="#0072BD" stroke="none" stroke-width="0"/>
<circle cx="401.80" cy="92.90" r="1.75" fill="#0072BD" stroke="none" stroke-width="0"/>
<circle cx="401.80" cy="107.30" r="1.75" fill="#0072BD" stroke="none" stroke-width="0"/>
<circle cx="401.80" cy="117.00" r="1.75" fill="#0072BD" stroke="none" stroke-width="0"/>
<circle cx="412.20" cy="60.40" r="1.75" fill="#D95319" stroke="none" stroke-width="0"/>
<circle cx="415.00" cy="62.30" r="1.75" fill="#D95319" stroke="none" stroke-width="0"/>
<circle cx="417.30" cy="59.80" r="1.75" fill="#D95319" stroke="none" stroke-width="0"/>
<circle cx="415.00" cy="73.30" r="1.75" fill="#D95319" stroke="none" stroke-width="0"/>
<circle cx="428.10" cy="79.50" r="1.75" fill="#EDB120" stroke="none" stroke-width="0"/>
<circle cx="425.10" cy="82.30" r="1.75" fill="#EDB120" stroke="none" stroke-width="0"/>
<circle cx="428.10" cy="84.00" r="1.75" fill="#EDB120" stroke="none" stroke-width="0"/>
<circle cx="428.10" cy="89.20" r="1.75" fill="#EDB120" stroke="none" stroke-width="0"/>
<circle cx="428.10" cy="115.50" r="1.75" fill="#EDB120" stroke="none" stroke-width="0"/>
<circle cx="438.70" cy="53.20" r="1.75" fill="#7E2F8E" stroke="none" stroke-width="0"/>
<circle cx="441.50" cy="55.70" r="1.75" fill="#7E2F8E" stroke="none" stroke-width="0"/>
<circle cx="438.30" cy="64.70" r="1.75" fill="#7E2F8E" stroke="none" stroke-width="0"/>
<circle cx="441.50" cy="66.30" r="1.75" fill="#7E2F8E" stroke="none" stroke-width="0"/>
<circle cx="441.50" cy="78.00" r="1.75" fill="#7E2F8E" stroke="none" stroke-width="0"/>
<circle cx="454.60" cy="103.50" r="1.75" fill="#77AC30" stroke="none" stroke-width="0"/>
<circle cx="454.60" cy="111.50" r="1.75" fill="#77AC30" stroke="none" stroke-width="0"/>
<circle cx="454.60" cy="125.10" r="1.75" fill="#77AC30" stroke="none" stroke-width="0"/>
<text x="469.00" y="12.00" font-size="16" text-anchor="start" font-weight="bold" fill="#000" >c</text>
<line x1="514.00" y1="30.30" x2="514.00" y2="149.00" stroke="#262626" stroke-width="1" />
<line x1="514.00" y1="148.50" x2="671.20" y2="148.50" stroke="#262626" stroke-width="1" />
<line x1="514.00" y1="147.60" x2="516.00" y2="147.60" stroke="#262626" stroke-width="1" />
<line x1="514.00" y1="118.38" x2="516.00" y2="118.38" stroke="#262626" stroke-width="1" />
<line x1="514.00" y1="89.15" x2="516.00" y2="89.15" stroke="#262626" stroke-width="1" />
<line x1="514.00" y1="59.92" x2="516.00" y2="59.92" stroke="#262626" stroke-width="1" />
<line x1="514.00" y1="30.70" x2="516.00" y2="30.70" stroke="#262626" stroke-width="1" />
<line x1="520.20" y1="148.50" x2="520.20" y2="146.50" stroke="#262626" stroke-width="1" />
<line x1="533.35" y1="148.50" x2="533.35" y2="146.50" stroke="#262626" stroke-width="1" />
<line x1="546.50" y1="148.50" x2="546.50" y2="146.50" stroke="#262626" stroke-width="1" />
<line x1="559.65" y1="148.50" x2="559.65" y2="146.50" stroke="#262626" stroke-width="1" />
<line x1="572.80" y1="148.50" x2="572.80" y2="146.50" stroke="#262626" stroke-width="1" />
<line x1="585.95" y1="148.50" x2="585.95" y2="146.50" stroke="#262626" stroke-width="1" />
<line x1="599.10" y1="148.50" x2="599.10" y2="146.50" stroke="#262626" stroke-width="1" />
<line x1="612.25" y1="148.50" x2="612.25" y2="146.50" stroke="#262626" stroke-width="1" />
<line x1="625.40" y1="148.50" x2="625.40" y2="146.50" stroke="#262626" stroke-width="1" />
<line x1="638.55" y1="148.50" x2="638.55" y2="146.50" stroke="#262626" stroke-width="1" />
<line x1="651.70" y1="148.50" x2="651.70" y2="146.50" stroke="#262626" stroke-width="1" />
<line x1="664.85" y1="148.50" x2="664.85" y2="146.50" stroke="#262626" stroke-width="1" />
<text x="511.80" y="151.60" font-size="10.3" text-anchor="end" font-weight="normal" fill="#262626" >0</text>
<text x="511.80" y="93.15" font-size="10.3" text-anchor="end" font-weight="normal" fill="#262626" >0.5</text>
<text x="511.80" y="34.70" font-size="10.3" text-anchor="end" font-weight="normal" fill="#262626" >1</text>
<text x="520.20" y="159.00" font-size="10.2" text-anchor="middle" font-weight="normal" fill="#262626" >1</text>
<text x="664.85" y="159.00" font-size="10.2" text-anchor="middle" font-weight="normal" fill="#262626" >12</text>
<text x="602.30" y="166.00" font-size="12.3" text-anchor="middle" font-weight="normal" fill="#262626" >FOVs</text>
<text transform="translate(492.30,89.50) rotate(-90)" font-size="12.3" text-anchor="middle" fill="#262626">Correlation</text>
<text x="593.3" y="23.6" font-size="10.9" text-anchor="middle" fill="#111">R(Noise<tspan font-size="6.3" dy="3.5" font-style="italic">diff</tspan><tspan dy="-3.5">, signal</tspan><tspan font-size="6.3" dy="3.5" font-style="italic">diff</tspan><tspan dy="-3.5">)</tspan></text>
<circle cx="520.30" cy="77.80" r="1.75" fill="#0072BD" stroke="none" stroke-width="0"/>
<circle cx="520.30" cy="100.70" r="1.75" fill="#0072BD" stroke="none" stroke-width="0"/>
<circle cx="533.60" cy="95.80" r="1.75" fill="#D95319" stroke="none" stroke-width="0"/>
<circle cx="533.60" cy="102.60" r="1.75" fill="#D95319" stroke="none" stroke-width="0"/>
<circle cx="533.60" cy="106.20" r="1.75" fill="#D95319" stroke="none" stroke-width="0"/>
<circle cx="533.60" cy="124.90" r="1.75" fill="#D95319" stroke="none" stroke-width="0"/>
<circle cx="546.80" cy="98.80" r="1.75" fill="#EDB120" stroke="none" stroke-width="0"/>
<circle cx="546.80" cy="110.70" r="1.75" fill="#EDB120" stroke="none" stroke-width="0"/>
<circle cx="546.80" cy="113.60" r="1.75" fill="#EDB120" stroke="none" stroke-width="0"/>
<circle cx="559.90" cy="95.60" r="1.75" fill="#7E2F8E" stroke="none" stroke-width="0"/>
<circle cx="559.90" cy="99.40" r="1.75" fill="#7E2F8E" stroke="none" stroke-width="0"/>
<circle cx="559.90" cy="102.60" r="1.75" fill="#7E2F8E" stroke="none" stroke-width="0"/>
<circle cx="559.90" cy="105.80" r="1.75" fill="#7E2F8E" stroke="none" stroke-width="0"/>
<circle cx="559.90" cy="116.00" r="1.75" fill="#7E2F8E" stroke="none" stroke-width="0"/>
<circle cx="559.90" cy="129.10" r="1.75" fill="#7E2F8E" stroke="none" stroke-width="0"/>
<circle cx="573.10" cy="101.80" r="1.75" fill="#77AC30" stroke="none" stroke-width="0"/>
<circle cx="573.10" cy="105.20" r="1.75" fill="#77AC30" stroke="none" stroke-width="0"/>
<circle cx="586.20" cy="119.80" r="1.75" fill="#4DBEEE" stroke="none" stroke-width="0"/>
<circle cx="586.20" cy="124.20" r="1.75" fill="#4DBEEE" stroke="none" stroke-width="0"/>
<circle cx="584.10" cy="127.20" r="1.75" fill="#4DBEEE" stroke="none" stroke-width="0"/>
<circle cx="586.20" cy="129.80" r="1.75" fill="#4DBEEE" stroke="none" stroke-width="0"/>
<circle cx="586.20" cy="139.10" r="1.75" fill="#4DBEEE" stroke="none" stroke-width="0"/>
<circle cx="599.30" cy="103.00" r="1.75" fill="#A2142F" stroke="none" stroke-width="0"/>
<circle cx="599.30" cy="105.50" r="1.75" fill="#A2142F" stroke="none" stroke-width="0"/>
<circle cx="599.30" cy="123.80" r="1.75" fill="#A2142F" stroke="none" stroke-width="0"/>
<circle cx="610.80" cy="96.50" r="1.75" fill="#0072BD" stroke="none" stroke-width="0"/>
<circle cx="612.50" cy="99.40" r="1.75" fill="#0072BD" stroke="none" stroke-width="0"/>
<circle cx="612.50" cy="110.90" r="1.75" fill="#0072BD" stroke="none" stroke-width="0"/>
<circle cx="612.50" cy="126.40" r="1.75" fill="#0072BD" stroke="none" stroke-width="0"/>
<circle cx="612.50" cy="131.40" r="1.75" fill="#0072BD" stroke="none" stroke-width="0"/>
<circle cx="625.60" cy="90.10" r="1.75" fill="#D95319" stroke="none" stroke-width="0"/>
<circle cx="621.80" cy="104.70" r="1.75" fill="#D95319" stroke="none" stroke-width="0"/>
<circle cx="625.60" cy="104.70" r="1.75" fill="#D95319" stroke="none" stroke-width="0"/>
<circle cx="625.60" cy="116.60" r="1.75" fill="#D95319" stroke="none" stroke-width="0"/>
<circle cx="638.60" cy="80.10" r="1.75" fill="#EDB120" stroke="none" stroke-width="0"/>
<circle cx="636.60" cy="93.90" r="1.75" fill="#EDB120" stroke="none" stroke-width="0"/>
<circle cx="638.60" cy="96.00" r="1.75" fill="#EDB120" stroke="none" stroke-width="0"/>
<circle cx="638.60" cy="99.20" r="1.75" fill="#EDB120" stroke="none" stroke-width="0"/>
<circle cx="638.60" cy="106.80" r="1.75" fill="#EDB120" stroke="none" stroke-width="0"/>
<circle cx="651.70" cy="78.60" r="1.75" fill="#7E2F8E" stroke="none" stroke-width="0"/>
<circle cx="651.70" cy="100.90" r="1.75" fill="#7E2F8E" stroke="none" stroke-width="0"/>
<circle cx="651.70" cy="110.70" r="1.75" fill="#7E2F8E" stroke="none" stroke-width="0"/>
<circle cx="651.70" cy="123.60" r="1.75" fill="#7E2F8E" stroke="none" stroke-width="0"/>
<circle cx="651.70" cy="128.70" r="1.75" fill="#7E2F8E" stroke="none" stroke-width="0"/>
<circle cx="664.90" cy="100.50" r="1.75" fill="#77AC30" stroke="none" stroke-width="0"/>
<circle cx="662.50" cy="123.60" r="1.75" fill="#77AC30" stroke="none" stroke-width="0"/>
<circle cx="664.90" cy="125.50" r="1.75" fill="#77AC30" stroke="none" stroke-width="0"/>
<text x="0.00" y="182.50" font-size="16" text-anchor="start" font-weight="bold" fill="#000" >d</text>
<text x="84.00" y="209.60" font-size="10.8" text-anchor="middle" font-weight="bold" fill="#000" >Within group pairs</text>
<text x="46.70" y="229.50" font-size="10.5" text-anchor="middle" font-weight="normal" fill="#000" >Day 1</text>
<text x="126.30" y="229.50" font-size="10.5" text-anchor="middle" font-weight="normal" fill="#000" >Day 2</text>
<path d="M33.52,256.38 A12.20,12.20 0 1 0 33.52,274.22" fill="none" stroke="#f0642f" stroke-width="1.5"/>
<path d="M37.40,264.10 L30.15,258.39 L34.36,258.58 L36.45,254.92 Z" fill="#f0642f"/>
<path d="M37.40,266.50 L36.45,275.68 L34.36,272.02 L30.15,272.21 Z" fill="#f0642f"/>
<path d="M33.52,279.08 A12.20,12.20 0 1 0 33.52,296.92" fill="none" stroke="#f0642f" stroke-width="1.5"/>
<path d="M37.40,286.80 L30.15,281.09 L34.36,281.28 L36.45,277.62 Z" fill="#f0642f"/>
<path d="M37.40,289.20 L36.45,298.38 L34.36,294.72 L30.15,294.91 Z" fill="#f0642f"/>
<path d="M33.52,301.68 A12.20,12.20 0 1 0 33.52,319.52" fill="none" stroke="#7030a0" stroke-width="1.5"/>
<path d="M37.40,309.40 L30.15,303.69 L34.36,303.88 L36.45,300.22 Z" fill="#7030a0"/>
<path d="M37.40,311.80 L36.45,320.98 L34.36,317.32 L30.15,317.51 Z" fill="#7030a0"/>
<path d="M71,266.3 C92,264 93,287 71.5,286.8" fill="none" stroke="#0000ff" stroke-width="1.5" stroke-dasharray="1.4,1.4"/>
<path d="M69,268.5 C84,280 84,297 69.5,307.5" fill="none" stroke="#f39a2b" stroke-width="1.5" stroke-dasharray="1.4,1.4"/>
<path d="M69,291 C77,296 77,301 69.5,307.5" fill="none" stroke="#f39a2b" stroke-width="1.5" stroke-dasharray="1.4,1.4"/>
<line x1="64.20" y1="265.30" x2="110.53" y2="253.95" stroke="#111" stroke-width="1.0" />
<path d="M113.20,253.30 L108.43,256.94 L109.99,254.08 L107.29,252.28 Z" fill="#111"/>
<line x1="64.20" y1="288.00" x2="110.45" y2="289.04" stroke="#111" stroke-width="1.0" />
<path d="M113.20,289.10 L107.65,291.38 L109.90,289.03 L107.76,286.58 Z" fill="#111"/>
<line x1="64.20" y1="310.60" x2="110.54" y2="322.42" stroke="#111" stroke-width="1.0" />
<path d="M113.20,323.10 L107.28,324.07 L110.00,322.28 L108.46,319.41 Z" fill="#111"/>
<path d="M64.30,265.40 L73.00,261.92 L72.26,264.60 L73.51,267.09 Z" fill="#0000ff"/>
<path d="M64.30,287.60 L71.36,281.35 L71.14,284.52 L73.66,286.46 Z" fill="#0000ff"/>
<path d="M64.60,266.30 L74.27,267.67 L71.29,270.31 L70.36,274.19 Z" fill="#f39a2b"/>
<path d="M64.60,288.70 L74.35,289.33 L71.58,292.19 L70.95,296.12 Z" fill="#f39a2b"/>
<path d="M64.60,310.20 L70.08,302.11 L71.14,305.95 L74.22,308.48 Z" fill="#f39a2b"/>
<polygon points="37.85,265.30 44.42,253.91 57.58,253.91 64.15,265.30 57.58,276.69 44.42,276.69" fill="#ff0000" stroke="#000" stroke-width="0.8"/>
<text x="51.00" y="269.98" font-size="13" text-anchor="middle" font-weight="normal" fill="#000" >1</text>
<polygon points="37.85,288.00 44.42,276.61 57.58,276.61 64.15,288.00 57.58,299.39 44.42,299.39" fill="#ff0000" stroke="#000" stroke-width="0.8"/>
<text x="51.00" y="292.68" font-size="13" text-anchor="middle" font-weight="normal" fill="#000" >2</text>
<polygon points="37.85,310.60 44.42,299.21 57.58,299.21 64.15,310.60 57.58,321.99 44.42,321.99" fill="#ff0000" stroke="#000" stroke-width="0.8"/>
<text x="51.00" y="315.28" font-size="13" text-anchor="middle" font-weight="normal" fill="#000" >3</text>
<polygon points="113.15,253.30 119.72,241.91 132.88,241.91 139.45,253.30 132.88,264.69 119.72,264.69" fill="#ff0000" stroke="#000" stroke-width="0.8"/>
<text x="126.30" y="257.98" font-size="13" text-anchor="middle" font-weight="normal" fill="#000" >1</text>
<polygon points="113.15,289.10 119.72,277.71 132.88,277.71 139.45,289.10 132.88,300.49 119.72,300.49" fill="#00ffff" stroke="#000" stroke-width="0.8"/>
<text x="126.30" y="293.78" font-size="13" text-anchor="middle" font-weight="normal" fill="#000" >2</text>
<polygon points="113.15,323.10 119.72,311.71 132.88,311.71 139.45,323.10 132.88,334.49 119.72,334.49" fill="#c8b29c" stroke="#000" stroke-width="0.8"/>
<text x="126.30" y="327.78" font-size="13" text-anchor="middle" font-weight="normal" fill="#000" >3</text>
<text x="0.00" y="391.50" font-size="16" text-anchor="start" font-weight="bold" fill="#000" >h</text>
<text x="82.40" y="404.60" font-size="10.9" text-anchor="middle" font-weight="bold" fill="#000" >Across group pairs</text>
<text x="39.00" y="423.50" font-size="10.5" text-anchor="middle" font-weight="normal" fill="#000" >Day 1</text>
<text x="126.60" y="423.50" font-size="10.5" text-anchor="middle" font-weight="normal" fill="#000" >Day 2</text>
<path d="M21.5,449.70 C8,468.20 8,506.40 21.5,524.90" fill="none" stroke="#f0642f" stroke-width="1.4"/>
<path d="M27.00,446.50 L22.64,454.02 L22.20,450.10 L18.56,448.58 Z" fill="#f0642f"/>
<path d="M27.00,528.10 L18.56,526.02 L22.20,524.50 L22.64,520.58 Z" fill="#f0642f"/>
<path d="M21.5,470.50 C8,489.00 8,527.20 21.5,545.70" fill="none" stroke="#0000ff" stroke-width="1.4"/>
<path d="M27.00,467.30 L22.64,474.82 L22.20,470.90 L18.56,469.38 Z" fill="#0000ff"/>
<path d="M27.00,548.90 L18.56,546.82 L22.20,545.30 L22.64,541.38 Z" fill="#0000ff"/>
<path d="M21.5,491.30 C8,509.80 8,548.00 21.5,566.50" fill="none" stroke="#7030a0" stroke-width="1.4"/>
<path d="M27.00,488.10 L22.64,495.62 L22.20,491.70 L18.56,490.18 Z" fill="#7030a0"/>
<path d="M27.00,569.70 L18.56,567.62 L22.20,566.10 L22.64,562.18 Z" fill="#7030a0"/>
<path d="M55.00,447.70 A68.67,68.67 0 0 1 55.00,568.50" fill="none" stroke="#a08c7a" stroke-width="1.4" stroke-dasharray="1.5,1.5"/>
<path d="M55.00,447.70 A55.82,55.82 0 0 1 55.00,547.70" fill="none" stroke="#a08c7a" stroke-width="1.4" stroke-dasharray="1.5,1.5"/>
<path d="M55.00,468.50 A58.64,58.64 0 0 1 55.00,568.50" fill="none" stroke="#a08c7a" stroke-width="1.4" stroke-dasharray="1.5,1.5"/>
<path d="M55.00,468.50 A31.15,31.15 0 0 1 55.00,527.40" fill="none" stroke="#a08c7a" stroke-width="1.4" stroke-dasharray="1.5,1.5"/>
<path d="M55.00,489.30 A29.76,29.76 0 0 1 55.00,547.70" fill="none" stroke="#a08c7a" stroke-width="1.4" stroke-dasharray="1.5,1.5"/>
<path d="M55.00,489.30 A19.96,19.96 0 0 1 55.00,527.40" fill="none" stroke="#a08c7a" stroke-width="1.4" stroke-dasharray="1.5,1.5"/>
<path d="M51.50,446.20 L59.06,442.07 L57.66,445.46 L59.82,448.42 Z" fill="#a08b7a"/>
<path d="M51.50,467.00 L59.06,462.87 L57.66,466.26 L59.82,469.22 Z" fill="#a08b7a"/>
<path d="M51.50,487.80 L59.06,483.67 L57.66,487.06 L59.82,490.02 Z" fill="#a08b7a"/>
<path d="M51.50,549.20 L59.82,546.98 L57.66,549.94 L59.06,553.33 Z" fill="#a08b7a"/>
<path d="M51.50,570.00 L59.82,567.78 L57.66,570.74 L59.06,574.13 Z" fill="#a08b7a"/>
<path d="M53.00,452.00 A85.42,85.42 0 0 1 53.00,522.00" fill="none" stroke="#f39a2b" stroke-width="1.5" stroke-dasharray="1.5,1.5"/>
<path d="M53.00,473.00 A246.25,246.25 0 0 1 53.00,543.00" fill="none" stroke="#f39a2b" stroke-width="1.5" stroke-dasharray="1.5,1.5"/>
<path d="M50.80,449.30 L57.73,455.34 L53.80,455.29 L51.47,458.47 Z" fill="#f39a2b"/>
<path d="M50.80,470.00 L57.73,476.04 L53.80,475.99 L51.47,479.17 Z" fill="#f39a2b"/>
<path d="M50.30,524.50 L50.97,515.33 L53.30,518.51 L57.23,518.46 Z" fill="#f39a2b"/>
<path d="M50.30,545.50 L50.97,536.33 L53.30,539.51 L57.23,539.46 Z" fill="#f39a2b"/>
<line x1="50.70" y1="446.20" x2="111.64" y2="470.00" stroke="#111" stroke-width="1.0" />
<path d="M114.20,471.00 L108.20,471.23 L111.13,469.80 L109.95,466.76 Z" fill="#111"/>
<line x1="50.70" y1="467.00" x2="111.89" y2="506.61" stroke="#111" stroke-width="1.0" />
<path d="M114.20,508.10 L108.28,507.13 L111.43,506.31 L110.89,503.10 Z" fill="#111"/>
<line x1="50.70" y1="487.80" x2="112.12" y2="541.00" stroke="#111" stroke-width="1.0" />
<path d="M114.20,542.80 L108.47,541.01 L111.71,540.64 L111.61,537.39 Z" fill="#111"/>
<line x1="50.70" y1="528.40" x2="112.16" y2="472.84" stroke="#111" stroke-width="1.0" />
<path d="M114.20,471.00 L111.73,476.47 L111.75,473.21 L108.51,472.91 Z" fill="#111"/>
<line x1="50.70" y1="549.20" x2="111.89" y2="509.59" stroke="#111" stroke-width="1.0" />
<path d="M114.20,508.10 L110.89,513.10 L111.43,509.89 L108.28,509.07 Z" fill="#111"/>
<line x1="50.70" y1="570.00" x2="111.67" y2="543.88" stroke="#111" stroke-width="1.0" />
<path d="M114.20,542.80 L110.09,547.17 L111.17,544.10 L108.20,542.76 Z" fill="#111"/>
<polygon points="27.30,446.20 33.15,436.07 44.85,436.07 50.70,446.20 44.85,456.33 33.15,456.33" fill="#ff0000" stroke="#000" stroke-width="0.8"/>
<text x="39.00" y="450.52" font-size="12" text-anchor="middle" font-weight="normal" fill="#000" >1</text>
<polygon points="27.30,467.00 33.15,456.87 44.85,456.87 50.70,467.00 44.85,477.13 33.15,477.13" fill="#ff0000" stroke="#000" stroke-width="0.8"/>
<text x="39.00" y="471.32" font-size="12" text-anchor="middle" font-weight="normal" fill="#000" >2</text>
<polygon points="27.30,487.80 33.15,477.67 44.85,477.67 50.70,487.80 44.85,497.93 33.15,497.93" fill="#ff0000" stroke="#000" stroke-width="0.8"/>
<text x="39.00" y="492.12" font-size="12" text-anchor="middle" font-weight="normal" fill="#000" >3</text>
<polygon points="27.30,528.40 33.15,518.27 44.85,518.27 50.70,528.40 44.85,538.53 33.15,538.53" fill="#00ffff" stroke="#000" stroke-width="0.8"/>
<text x="39.00" y="532.72" font-size="12" text-anchor="middle" font-weight="normal" fill="#000" >1</text>
<polygon points="27.30,549.20 33.15,539.07 44.85,539.07 50.70,549.20 44.85,559.33 33.15,559.33" fill="#00ffff" stroke="#000" stroke-width="0.8"/>
<text x="39.00" y="553.52" font-size="12" text-anchor="middle" font-weight="normal" fill="#000" >2</text>
<polygon points="27.30,570.00 33.15,559.87 44.85,559.87 50.70,570.00 44.85,580.13 33.15,580.13" fill="#00ffff" stroke="#000" stroke-width="0.8"/>
<text x="39.00" y="574.32" font-size="12" text-anchor="middle" font-weight="normal" fill="#000" >3</text>
<polygon points="114.10,471.00 121.15,458.79 135.25,458.79 142.30,471.00 135.25,483.21 121.15,483.21" fill="#ff0000" stroke="#000" stroke-width="0.8"/>
<text x="128.20" y="475.68" font-size="13" text-anchor="middle" font-weight="normal" fill="#000" >1</text>
<polygon points="114.10,508.10 121.15,495.89 135.25,495.89 142.30,508.10 135.25,520.31 121.15,520.31" fill="#00ffff" stroke="#000" stroke-width="0.8"/>
<text x="128.20" y="512.78" font-size="13" text-anchor="middle" font-weight="normal" fill="#000" >2</text>
<polygon points="114.10,542.80 121.15,530.59 135.25,530.59 142.30,542.80 135.25,555.01 121.15,555.01" fill="#c8b29c" stroke="#000" stroke-width="0.8"/>
<text x="128.20" y="547.48" font-size="13" text-anchor="middle" font-weight="normal" fill="#000" >3</text>
<text x="149.00" y="183.00" font-size="16" text-anchor="start" font-weight="bold" fill="#000" >e</text>
<text x="260.90" y="192.50" font-size="11" text-anchor="middle" font-weight="normal" fill="#000" >Selective</text>
<line x1="199.70" y1="198.10" x2="199.70" y2="261.40" stroke="#262626" stroke-width="1" />
<line x1="199.70" y1="260.90" x2="324.40" y2="260.90" stroke="#262626" stroke-width="1" />
<line x1="199.70" y1="260.90" x2="201.20" y2="260.90" stroke="#262626" stroke-width="1" />
<line x1="199.70" y1="229.75" x2="201.20" y2="229.75" stroke="#262626" stroke-width="1" />
<line x1="199.70" y1="198.60" x2="201.20" y2="198.60" stroke="#262626" stroke-width="1" />
<text x="196.70" y="264.00" font-size="10.5" text-anchor="end" font-weight="normal" fill="#262626" >0</text>
<text x="196.70" y="232.85" font-size="10.5" text-anchor="end" font-weight="normal" fill="#262626" >0.04</text>
<text x="196.70" y="201.70" font-size="10.5" text-anchor="end" font-weight="normal" fill="#262626" >0.08</text>
<text transform="translate(171.20,225.95) rotate(-90)" font-size="12.3" text-anchor="middle" fill="#262626">Prob.</text>
<path d="M201.00,260.90 L201.00,260.90 L202.01,260.90 L202.01,258.30 L203.01,258.30 L203.01,260.90 L204.02,260.90 L204.02,260.90 L205.03,260.90 L205.03,260.90 L206.04,260.90 L206.04,260.90 L207.04,260.90 L207.04,260.90 L208.05,260.90 L208.05,260.90 L209.06,260.90 L209.06,260.90 L210.06,260.90 L210.06,260.90 L211.07,260.90 L211.07,260.90 L212.08,260.90 L212.08,260.90 L213.08,260.90 L213.08,255.70 L214.09,255.70 L214.09,258.30 L215.10,258.30 L215.10,253.10 L216.11,253.10 L216.11,253.10 L217.11,253.10 L217.11,253.10 L218.12,253.10 L218.12,253.10 L219.13,253.10 L219.13,258.30 L220.13,258.30 L220.13,253.10 L221.14,253.10 L221.14,255.70 L222.15,255.70 L222.15,250.50 L223.15,250.50 L223.15,247.90 L224.16,247.90 L224.16,253.10 L225.17,253.10 L225.17,250.50 L226.18,250.50 L226.18,253.10 L227.18,253.10 L227.18,245.30 L228.19,245.30 L228.19,255.70 L229.20,255.70 L229.20,253.10 L230.20,253.10 L230.20,240.10 L231.21,240.10 L231.21,242.70 L232.22,242.70 L232.22,247.90 L233.22,247.90 L233.22,242.70 L234.23,242.70 L234.23,232.30 L235.24,232.30 L235.24,240.10 L236.25,240.10 L236.25,227.10 L237.25,227.10 L237.25,229.70 L238.26,229.70 L238.26,240.10 L239.27,240.10 L239.27,221.90 L240.27,221.90 L240.27,232.30 L241.28,232.30 L241.28,221.90 L242.29,221.90 L242.29,242.70 L243.29,242.70 L243.29,247.90 L244.30,247.90 L244.30,237.50 L245.31,237.50 L245.31,237.50 L246.32,237.50 L246.32,221.90 L247.32,221.90 L247.32,221.90 L248.33,221.90 L248.33,247.90 L249.34,247.90 L249.34,234.90 L250.34,234.90 L250.34,234.90 L251.35,234.90 L251.35,232.30 L252.36,232.30 L252.36,221.90 L253.36,221.90 L253.36,220.90 L254.37,220.90 L254.37,240.10 L255.38,240.10 L255.38,224.50 L256.39,224.50 L256.39,232.30 L257.39,232.30 L257.39,245.30 L258.40,245.30 L258.40,242.70 L259.41,242.70 L259.41,253.10 L260.41,253.10 L260.41,247.90 L261.42,247.90 L261.42,250.50 L262.43,250.50 L262.43,250.50 L263.43,250.50 L263.43,253.10 L264.44,253.10 L264.44,255.70 L265.45,255.70 L265.45,253.10 L266.46,253.10 L266.46,255.70 L267.46,255.70 L267.46,255.70 L268.47,255.70 L268.47,258.30 L269.48,258.30 L269.48,260.90 L270.48,260.90 L270.48,255.70 L271.49,255.70 L271.49,260.90 L272.50,260.90 L272.50,260.90 L273.50,260.90 L273.50,260.90 L274.51,260.90 L274.51,258.30 L275.52,258.30 L275.52,260.90 L276.53,260.90 L276.53,260.90 L277.53,260.90 L277.53,258.30 L278.54,258.30 L278.54,260.90 L279.55,260.90 L279.55,260.90 L280.55,260.90 L280.55,260.90" stroke="#0000ff" stroke-width="1.2" fill="none" stroke-linejoin="miter"/>
<path d="M247.00,260.90 L247.00,260.90 L248.01,260.90 L248.01,260.90 L249.01,260.90 L249.01,258.30 L250.02,258.30 L250.02,260.90 L251.03,260.90 L251.03,253.10 L252.04,253.10 L252.04,255.70 L253.04,255.70 L253.04,258.30 L254.05,258.30 L254.05,253.10 L255.06,253.10 L255.06,250.50 L256.06,250.50 L256.06,253.10 L257.07,253.10 L257.07,258.30 L258.08,258.30 L258.08,253.10 L259.08,253.10 L259.08,255.70 L260.09,255.70 L260.09,255.70 L261.10,255.70 L261.10,255.70 L262.11,255.70 L262.11,260.90 L263.11,260.90 L263.11,253.10 L264.12,253.10 L264.12,253.10 L265.13,253.10 L265.13,253.10 L266.13,253.10 L266.13,250.50 L267.14,250.50 L267.14,253.10 L268.15,253.10 L268.15,250.50 L269.15,250.50 L269.15,245.30 L270.16,245.30 L270.16,240.10 L271.17,240.10 L271.17,253.10 L272.18,253.10 L272.18,250.50 L273.18,250.50 L273.18,250.50 L274.19,250.50 L274.19,250.50 L275.20,250.50 L275.20,234.90 L276.20,234.90 L276.20,245.30 L277.21,245.30 L277.21,245.30 L278.22,245.30 L278.22,229.70 L279.22,229.70 L279.22,229.70 L280.23,229.70 L280.23,237.50 L281.24,237.50 L281.24,232.30 L282.25,232.30 L282.25,234.90 L283.25,234.90 L283.25,234.90 L284.26,234.90 L284.26,227.10 L285.27,227.10 L285.27,227.10 L286.27,227.10 L286.27,205.10 L287.28,205.10 L287.28,222.90 L288.29,222.90 L288.29,234.90 L289.29,234.90 L289.29,253.10 L290.30,253.10 L290.30,245.30 L291.31,245.30 L291.31,237.50 L292.32,237.50 L292.32,234.90 L293.32,234.90 L293.32,247.90 L294.33,247.90 L294.33,234.90 L295.34,234.90 L295.34,242.70 L296.34,242.70 L296.34,237.50 L297.35,237.50 L297.35,253.10 L298.36,253.10 L298.36,240.10 L299.36,240.10 L299.36,245.30 L300.37,245.30 L300.37,245.30 L301.38,245.30 L301.38,255.70 L302.39,255.70 L302.39,253.10 L303.39,253.10 L303.39,247.90 L304.40,247.90 L304.40,245.30 L305.41,245.30 L305.41,245.30 L306.41,245.30 L306.41,245.30 L307.42,245.30 L307.42,245.30 L308.43,245.30 L308.43,247.90 L309.43,247.90 L309.43,250.50 L310.44,250.50 L310.44,253.10 L311.45,253.10 L311.45,253.10 L312.46,253.10 L312.46,258.30 L313.46,258.30 L313.46,258.30 L314.47,258.30 L314.47,255.70 L315.48,255.70 L315.48,258.30 L316.48,258.30 L316.48,260.90 L317.49,260.90 L317.49,260.90 L318.50,260.90 L318.50,260.90" stroke="#f0703c" stroke-width="1.2" fill="none" stroke-linejoin="miter"/>
<line x1="205.40" y1="202.00" x2="213.40" y2="202.00" stroke="#f0703c" stroke-width="1.4" />
<text x="215.40" y="204.60" font-size="9.7" text-anchor="start" font-weight="normal" fill="#000" >Within-f.-type</text>
<line x1="205.40" y1="211.90" x2="213.40" y2="211.90" stroke="#0000ff" stroke-width="1.4" />
<text x="215.40" y="214.50" font-size="9.7" text-anchor="start" font-weight="normal" fill="#000" >Across-f.-type</text>
<text x="262.50" y="276.50" font-size="11" text-anchor="middle" font-weight="normal" fill="#000" >Non-selective</text>
<line x1="199.70" y1="279.90" x2="199.70" y2="344.10" stroke="#262626" stroke-width="1" />
<line x1="199.70" y1="343.60" x2="325.30" y2="343.60" stroke="#262626" stroke-width="1" />
<line x1="199.70" y1="343.60" x2="201.20" y2="343.60" stroke="#262626" stroke-width="1" />
<line x1="199.70" y1="312.00" x2="201.20" y2="312.00" stroke="#262626" stroke-width="1" />
<line x1="199.70" y1="280.40" x2="201.20" y2="280.40" stroke="#262626" stroke-width="1" />
<text x="196.70" y="346.70" font-size="10.5" text-anchor="end" font-weight="normal" fill="#262626" >0</text>
<text x="196.70" y="315.10" font-size="10.5" text-anchor="end" font-weight="normal" fill="#262626" >0.04</text>
<text x="196.70" y="283.50" font-size="10.5" text-anchor="end" font-weight="normal" fill="#262626" >0.08</text>
<text transform="translate(171.20,308.20) rotate(-90)" font-size="12.3" text-anchor="middle" fill="#262626">Prob.</text>
<path d="M220.40,343.60 L220.40,342.30 L221.41,342.30 L221.41,342.30 L222.41,342.30 L222.41,342.30 L223.42,342.30 L223.42,342.30 L224.43,342.30 L224.43,342.30 L225.44,342.30 L225.44,341.00 L226.44,341.00 L226.44,343.60 L227.45,343.60 L227.45,341.00 L228.46,341.00 L228.46,342.30 L229.46,342.30 L229.46,342.30 L230.47,342.30 L230.47,343.60 L231.48,343.60 L231.48,341.00 L232.48,341.00 L232.48,338.40 L233.49,338.40 L233.49,337.10 L234.50,337.10 L234.50,339.70 L235.51,339.70 L235.51,333.20 L236.51,333.20 L236.51,338.40 L237.52,338.40 L237.52,338.40 L238.53,338.40 L238.53,330.60 L239.53,330.60 L239.53,331.90 L240.54,331.90 L240.54,335.80 L241.55,335.80 L241.55,330.60 L242.55,330.60 L242.55,331.90 L243.56,331.90 L243.56,324.10 L244.57,324.10 L244.57,322.80 L245.58,322.80 L245.58,322.80 L246.58,322.80 L246.58,321.50 L247.59,321.50 L247.59,330.60 L248.60,330.60 L248.60,330.60 L249.60,330.60 L249.60,322.80 L250.61,322.80 L250.61,326.70 L251.62,326.70 L251.62,316.30 L252.62,316.30 L252.62,318.90 L253.63,318.90 L253.63,320.20 L254.64,320.20 L254.64,315.00 L255.65,315.00 L255.65,317.60 L256.65,317.60 L256.65,326.70 L257.66,326.70 L257.66,318.90 L258.67,318.90 L258.67,324.10 L259.67,324.10 L259.67,321.50 L260.68,321.50 L260.68,325.40 L261.69,325.40 L261.69,329.30 L262.69,329.30 L262.69,328.00 L263.70,328.00 L263.70,325.40 L264.71,325.40 L264.71,324.10 L265.72,324.10 L265.72,329.30 L266.72,329.30 L266.72,333.20 L267.73,333.20 L267.73,331.90 L268.74,331.90 L268.74,322.80 L269.74,322.80 L269.74,331.90 L270.75,331.90 L270.75,331.90 L271.76,331.90 L271.76,322.80 L272.76,322.80 L272.76,333.20 L273.77,333.20 L273.77,328.00 L274.78,328.00 L274.78,322.80 L275.79,322.80 L275.79,329.30 L276.79,329.30 L276.79,325.40 L277.80,325.40 L277.80,328.00 L278.81,328.00 L278.81,330.60 L279.81,330.60 L279.81,325.40 L280.82,325.40 L280.82,326.70 L281.83,326.70 L281.83,334.50 L282.83,334.50 L282.83,329.30 L283.84,329.30 L283.84,333.20 L284.85,333.20 L284.85,330.60 L285.86,330.60 L285.86,333.20 L286.86,333.20 L286.86,331.90 L287.87,331.90 L287.87,338.40 L288.88,338.40 L288.88,339.70 L289.88,339.70 L289.88,337.10 L290.89,337.10 L290.89,342.30 L291.90,342.30 L291.90,339.70 L292.90,339.70 L292.90,341.00 L293.91,341.00 L293.91,341.00 L294.92,341.00 L294.92,339.70 L295.93,339.70 L295.93,339.70 L296.93,339.70 L296.93,339.70 L297.94,339.70 L297.94,342.30 L298.95,342.30 L298.95,341.00 L299.95,341.00 L299.95,342.30 L300.96,342.30 L300.96,341.00 L301.97,341.00 L301.97,342.30 L302.97,342.30 L302.97,342.30 L303.98,342.30 L303.98,343.60 L304.99,343.60 L304.99,343.60 L306.00,343.60 L306.00,342.30 L307.00,342.30 L307.00,342.30 L308.01,342.30 L308.01,343.60 L309.02,343.60 L309.02,343.60 L310.02,343.60 L310.02,342.30 L311.03,342.30 L311.03,342.30 L312.04,342.30 L312.04,343.60" stroke="#edb120" stroke-width="1.1" fill="none" stroke-linejoin="miter"/>
<path d="M237.20,343.60 L237.20,338.60 L238.21,338.60 L238.21,343.60 L239.21,343.60 L239.21,336.10 L240.22,336.10 L240.22,336.10 L241.23,336.10 L241.23,336.10 L242.24,336.10 L242.24,336.10 L243.24,336.10 L243.24,336.10 L244.25,336.10 L244.25,341.10 L245.26,341.10 L245.26,328.60 L246.26,328.60 L246.26,318.60 L247.27,318.60 L247.27,326.10 L248.28,326.10 L248.28,331.10 L249.28,331.10 L249.28,328.60 L250.29,328.60 L250.29,328.60 L251.30,328.60 L251.30,316.10 L252.31,316.10 L252.31,328.60 L253.31,328.60 L253.31,318.60 L254.32,318.60 L254.32,313.60 L255.33,313.60 L255.33,309.60 L256.33,309.60 L256.33,313.60 L257.34,313.60 L257.34,323.60 L258.35,323.60 L258.35,311.10 L259.35,311.10 L259.35,316.10 L260.36,316.10 L260.36,323.60 L261.37,323.60 L261.37,318.60 L262.38,318.60 L262.38,328.60 L263.38,328.60 L263.38,323.60 L264.39,323.60 L264.39,318.60 L265.40,318.60 L265.40,311.10 L266.40,311.10 L266.40,328.60 L267.41,328.60 L267.41,313.60 L268.42,313.60 L268.42,311.10 L269.42,311.10 L269.42,316.10 L270.43,316.10 L270.43,323.60 L271.44,323.60 L271.44,338.60 L272.45,338.60 L272.45,321.10 L273.45,321.10 L273.45,311.10 L274.46,311.10 L274.46,311.10 L275.47,311.10 L275.47,305.90 L276.47,305.90 L276.47,313.60 L277.48,313.60 L277.48,318.60 L278.49,318.60 L278.49,323.60 L279.49,323.60 L279.49,321.10 L280.50,321.10 L280.50,318.60 L281.51,318.60 L281.51,336.10 L282.52,336.10 L282.52,341.10 L283.52,341.10 L283.52,336.10 L284.53,336.10 L284.53,338.60 L285.54,338.60 L285.54,338.60 L286.54,338.60 L286.54,343.60 L287.55,343.60 L287.55,341.10 L288.56,341.10 L288.56,343.60 L289.56,343.60 L289.56,343.60 L290.57,343.60 L290.57,343.60 L291.58,343.60 L291.58,341.10 L292.59,341.10 L292.59,343.60 L293.59,343.60 L293.59,343.60 L294.60,343.60 L294.60,341.10 L295.61,341.10 L295.61,343.60 L296.61,343.60 L296.61,343.60 L297.62,343.60 L297.62,343.60 L298.63,343.60 L298.63,343.60 L299.63,343.60 L299.63,343.60 L300.64,343.60 L300.64,343.60 L301.65,343.60 L301.65,343.60 L302.66,343.60 L302.66,343.60" stroke="#7e2f8e" stroke-width="1.3" fill="none" stroke-linejoin="miter"/>
<line x1="269.80" y1="289.40" x2="277.80" y2="289.40" stroke="#7e2f8e" stroke-width="1.4" />
<text x="279.80" y="292.00" font-size="9.7" text-anchor="start" font-weight="normal" fill="#000" >Within-f.-type</text>
<line x1="269.80" y1="299.30" x2="277.80" y2="299.30" stroke="#edb120" stroke-width="1.4" />
<text x="279.80" y="301.90" font-size="9.7" text-anchor="start" font-weight="normal" fill="#000" >Across-f.-type</text>
<line x1="199.98" y1="343.50" x2="199.98" y2="341.50" stroke="#262626" stroke-width="1" />
<text x="198.48" y="354.30" font-size="10.5" text-anchor="middle" font-weight="normal" fill="#262626" >-0.6</text>
<line x1="260.40" y1="343.50" x2="260.40" y2="341.50" stroke="#262626" stroke-width="1" />
<text x="260.40" y="354.30" font-size="10.5" text-anchor="middle" font-weight="normal" fill="#262626" >0</text>
<line x1="320.82" y1="343.50" x2="320.82" y2="341.50" stroke="#262626" stroke-width="1" />
<text x="320.82" y="354.30" font-size="10.5" text-anchor="middle" font-weight="normal" fill="#262626" >0.6</text>
<text x="261.50" y="364.70" font-size="12.6" text-anchor="middle" font-weight="normal" fill="#262626" >Noise Correlation</text>
<text x="150.00" y="391.50" font-size="16" text-anchor="start" font-weight="bold" fill="#000" >i</text>
<text x="260.50" y="404.50" font-size="11" text-anchor="middle" font-weight="normal" fill="#000" >Selective</text>
<line x1="199.50" y1="419.30" x2="199.50" y2="482.90" stroke="#262626" stroke-width="1" />
<line x1="199.50" y1="482.40" x2="325.00" y2="482.40" stroke="#262626" stroke-width="1" />
<line x1="199.50" y1="482.40" x2="201.00" y2="482.40" stroke="#262626" stroke-width="1" />
<line x1="199.50" y1="451.10" x2="201.00" y2="451.10" stroke="#262626" stroke-width="1" />
<line x1="199.50" y1="419.80" x2="201.00" y2="419.80" stroke="#262626" stroke-width="1" />
<text x="196.50" y="485.50" font-size="10.5" text-anchor="end" font-weight="normal" fill="#262626" >0</text>
<text x="196.50" y="454.20" font-size="10.5" text-anchor="end" font-weight="normal" fill="#262626" >0.04</text>
<text x="196.50" y="422.90" font-size="10.5" text-anchor="end" font-weight="normal" fill="#262626" >0.08</text>
<text transform="translate(171.00,447.30) rotate(-90)" font-size="12.3" text-anchor="middle" fill="#262626">Prob.</text>
<path d="M210.30,482.40 L210.30,482.40 L211.31,482.40 L211.31,482.40 L212.31,482.40 L212.31,480.60 L213.32,480.60 L213.32,480.60 L214.33,480.60 L214.33,482.40 L215.34,482.40 L215.34,480.60 L216.34,480.60 L216.34,480.60 L217.35,480.60 L217.35,482.40 L218.36,482.40 L218.36,478.80 L219.36,478.80 L219.36,480.60 L220.37,480.60 L220.37,478.80 L221.38,478.80 L221.38,478.80 L222.38,478.80 L222.38,480.60 L223.39,480.60 L223.39,475.20 L224.40,475.20 L224.40,478.80 L225.41,478.80 L225.41,477.00 L226.41,477.00 L226.41,473.40 L227.42,473.40 L227.42,471.60 L228.43,471.60 L228.43,475.20 L229.43,475.20 L229.43,468.00 L230.44,468.00 L230.44,468.00 L231.45,468.00 L231.45,475.20 L232.45,475.20 L232.45,462.60 L233.46,462.60 L233.46,466.20 L234.47,466.20 L234.47,457.20 L235.48,457.20 L235.48,471.60 L236.48,471.60 L236.48,477.00 L237.49,477.00 L237.49,460.80 L238.50,460.80 L238.50,464.40 L239.50,464.40 L239.50,448.20 L240.51,448.20 L240.51,450.00 L241.52,450.00 L241.52,444.60 L242.52,444.60 L242.52,446.40 L243.53,446.40 L243.53,455.40 L244.54,455.40 L244.54,435.40 L245.55,435.40 L245.55,446.40 L246.55,446.40 L246.55,455.40 L247.56,455.40 L247.56,451.80 L248.57,451.80 L248.57,451.80 L249.57,451.80 L249.57,459.00 L250.58,459.00 L250.58,436.40 L251.59,436.40 L251.59,451.80 L252.59,451.80 L252.59,453.60 L253.60,453.60 L253.60,469.80 L254.61,469.80 L254.61,442.80 L255.62,442.80 L255.62,464.40 L256.62,464.40 L256.62,455.40 L257.63,455.40 L257.63,462.60 L258.64,462.60 L258.64,466.20 L259.64,466.20 L259.64,464.40 L260.65,464.40 L260.65,464.40 L261.66,464.40 L261.66,477.00 L262.66,477.00 L262.66,473.40 L263.67,473.40 L263.67,480.60 L264.68,480.60 L264.68,471.60 L265.69,471.60 L265.69,473.40 L266.69,473.40 L266.69,480.60 L267.70,480.60 L267.70,475.20 L268.71,475.20 L268.71,478.80 L269.71,478.80 L269.71,477.00 L270.72,477.00 L270.72,477.00 L271.73,477.00 L271.73,482.40 L272.73,482.40 L272.73,480.60 L273.74,480.60 L273.74,480.60 L274.75,480.60 L274.75,480.60 L275.76,480.60 L275.76,480.60 L276.76,480.60 L276.76,480.60 L277.77,480.60 L277.77,480.60 L278.78,480.60 L278.78,482.40 L279.78,482.40 L279.78,482.40" stroke="#edb120" stroke-width="1.2" fill="none" stroke-linejoin="miter"/>
<path d="M233.00,482.40 L233.00,482.40 L234.01,482.40 L234.01,477.40 L235.01,477.40 L235.01,477.40 L236.02,477.40 L236.02,482.40 L237.03,482.40 L237.03,477.40 L238.04,477.40 L238.04,477.40 L239.04,477.40 L239.04,477.40 L240.05,477.40 L240.05,482.40 L241.06,482.40 L241.06,477.40 L242.06,477.40 L242.06,482.40 L243.07,482.40 L243.07,482.40 L244.08,482.40 L244.08,482.40 L245.08,482.40 L245.08,472.40 L246.09,472.40 L246.09,482.40 L247.10,482.40 L247.10,482.40 L248.11,482.40 L248.11,477.40 L249.11,477.40 L249.11,477.40 L250.12,477.40 L250.12,477.40 L251.13,477.40 L251.13,472.40 L252.13,472.40 L252.13,472.40 L253.14,472.40 L253.14,482.40 L254.15,482.40 L254.15,472.40 L255.15,472.40 L255.15,472.40 L256.16,472.40 L256.16,472.40 L257.17,472.40 L257.17,477.40 L258.18,477.40 L258.18,467.40 L259.18,467.40 L259.18,472.40 L260.19,472.40 L260.19,472.40 L261.20,472.40 L261.20,467.40 L262.20,467.40 L262.20,450.40 L263.21,450.40 L263.21,462.40 L264.22,462.40 L264.22,457.40 L265.22,457.40 L265.22,467.40 L266.23,467.40 L266.23,467.40 L267.24,467.40 L267.24,472.40 L268.25,472.40 L268.25,477.40 L269.25,477.40 L269.25,452.40 L270.26,452.40 L270.26,477.40 L271.27,477.40 L271.27,444.80 L272.27,444.80 L272.27,467.40 L273.28,467.40 L273.28,447.40 L274.29,447.40 L274.29,462.40 L275.29,462.40 L275.29,444.80 L276.30,444.80 L276.30,462.40 L277.31,462.40 L277.31,457.40 L278.32,457.40 L278.32,462.40 L279.32,462.40 L279.32,462.40 L280.33,462.40 L280.33,472.40 L281.34,472.40 L281.34,452.40 L282.34,452.40 L282.34,452.40 L283.35,452.40 L283.35,457.40 L284.36,457.40 L284.36,457.40 L285.36,457.40 L285.36,462.40 L286.37,462.40 L286.37,472.40 L287.38,472.40 L287.38,467.40 L288.39,467.40 L288.39,467.40 L289.39,467.40 L289.39,457.40 L290.40,457.40 L290.40,457.40 L291.41,457.40 L291.41,457.40 L292.41,457.40 L292.41,472.40 L293.42,472.40 L293.42,462.40 L294.43,462.40 L294.43,467.40 L295.43,467.40 L295.43,462.40 L296.44,462.40 L296.44,472.40 L297.45,472.40 L297.45,472.40 L298.46,472.40 L298.46,472.40 L299.46,472.40 L299.46,472.40 L300.47,472.40 L300.47,472.40 L301.48,472.40 L301.48,477.40 L302.48,477.40 L302.48,455.40 L303.49,455.40 L303.49,482.40 L304.50,482.40 L304.50,472.40 L305.50,472.40 L305.50,472.40 L306.51,472.40 L306.51,477.40 L307.52,477.40 L307.52,472.40 L308.53,472.40 L308.53,482.40 L309.53,482.40 L309.53,482.40 L310.54,482.40 L310.54,482.40 L311.55,482.40 L311.55,477.40 L312.55,477.40 L312.55,477.40 L313.56,477.40 L313.56,482.40 L314.57,482.40 L314.57,482.40" stroke="#0000ff" stroke-width="1.2" fill="none" stroke-linejoin="miter"/>
<path d="M242.60,482.40 L242.60,479.80 L243.61,479.80 L243.61,482.40 L244.61,482.40 L244.61,479.80 L245.62,479.80 L245.62,477.20 L246.63,477.20 L246.63,477.20 L247.64,477.20 L247.64,477.20 L248.64,477.20 L248.64,479.80 L249.65,479.80 L249.65,479.80 L250.66,479.80 L250.66,474.60 L251.66,474.60 L251.66,477.20 L252.67,477.20 L252.67,474.60 L253.68,474.60 L253.68,477.20 L254.68,477.20 L254.68,472.00 L255.69,472.00 L255.69,477.20 L256.70,477.20 L256.70,472.00 L257.71,472.00 L257.71,474.60 L258.71,474.60 L258.71,477.20 L259.72,477.20 L259.72,466.80 L260.73,466.80 L260.73,466.80 L261.73,466.80 L261.73,461.60 L262.74,461.60 L262.74,469.40 L263.75,469.40 L263.75,464.20 L264.75,464.20 L264.75,466.80 L265.76,466.80 L265.76,469.40 L266.77,469.40 L266.77,461.60 L267.78,461.60 L267.78,466.80 L268.78,466.80 L268.78,469.40 L269.79,469.40 L269.79,469.40 L270.80,469.40 L270.80,474.60 L271.80,474.60 L271.80,461.60 L272.81,461.60 L272.81,464.20 L273.82,464.20 L273.82,472.00 L274.82,472.00 L274.82,459.00 L275.83,459.00 L275.83,451.20 L276.84,451.20 L276.84,448.60 L277.85,448.60 L277.85,461.60 L278.85,461.60 L278.85,464.20 L279.86,464.20 L279.86,453.80 L280.87,453.80 L280.87,451.20 L281.87,451.20 L281.87,461.60 L282.88,461.60 L282.88,446.00 L283.89,446.00 L283.89,451.20 L284.89,451.20 L284.89,442.40 L285.90,442.40 L285.90,459.00 L286.91,459.00 L286.91,461.60 L287.92,461.60 L287.92,474.60 L288.92,474.60 L288.92,461.60 L289.93,461.60 L289.93,464.20 L290.94,464.20 L290.94,474.60 L291.94,474.60 L291.94,461.60 L292.95,461.60 L292.95,466.80 L293.96,466.80 L293.96,472.00 L294.96,472.00 L294.96,472.00 L295.97,472.00 L295.97,466.80 L296.98,466.80 L296.98,469.40 L297.99,469.40 L297.99,469.40 L298.99,469.40 L298.99,472.00 L300.00,472.00 L300.00,472.00 L301.01,472.00 L301.01,479.80 L302.01,479.80 L302.01,482.40 L303.02,482.40 L303.02,474.60 L304.03,474.60 L304.03,479.80 L305.03,479.80 L305.03,479.80 L306.04,479.80 L306.04,477.20 L307.05,477.20 L307.05,479.80 L308.06,479.80 L308.06,477.20 L309.06,477.20 L309.06,479.80 L310.07,479.80 L310.07,482.40 L311.08,482.40 L311.08,477.20 L312.08,477.20 L312.08,477.20 L313.09,477.20 L313.09,477.20 L314.10,477.20 L314.10,482.40 L315.10,482.40 L315.10,482.40 L316.11,482.40 L316.11,482.40 L317.12,482.40 L317.12,479.80 L318.13,479.80 L318.13,479.80 L319.13,479.80 L319.13,482.40 L320.14,482.40 L320.14,482.40" stroke="#e8663a" stroke-width="1.2" fill="none" stroke-linejoin="miter"/>
<line x1="251.20" y1="413.60" x2="258.70" y2="413.60" stroke="#e8663a" stroke-width="1.4" />
<text x="260.70" y="416.20" font-size="9.9" text-anchor="start" font-weight="normal" fill="#000" >Within-f.-type,CNs</text>
<line x1="251.20" y1="423.20" x2="258.70" y2="423.20" stroke="#0000ff" stroke-width="1.4" />
<text x="260.70" y="425.80" font-size="9.9" text-anchor="start" font-weight="normal" fill="#000" >Within-f.-type,ENs</text>
<line x1="251.20" y1="432.80" x2="258.70" y2="432.80" stroke="#edb120" stroke-width="1.4" />
<text x="260.70" y="435.40" font-size="9.9" text-anchor="start" font-weight="normal" fill="#000" >&#160;Across-f.-type</text>
<text x="260.50" y="497.80" font-size="11" text-anchor="middle" font-weight="normal" fill="#000" >Non-selective</text>
<line x1="199.50" y1="500.80" x2="199.50" y2="564.70" stroke="#262626" stroke-width="1" />
<line x1="199.50" y1="564.20" x2="324.20" y2="564.20" stroke="#262626" stroke-width="1" />
<line x1="199.50" y1="564.20" x2="201.00" y2="564.20" stroke="#262626" stroke-width="1" />
<line x1="199.50" y1="532.75" x2="201.00" y2="532.75" stroke="#262626" stroke-width="1" />
<line x1="199.50" y1="501.30" x2="201.00" y2="501.30" stroke="#262626" stroke-width="1" />
<text x="196.50" y="567.30" font-size="10.5" text-anchor="end" font-weight="normal" fill="#262626" >0</text>
<text x="196.50" y="535.85" font-size="10.5" text-anchor="end" font-weight="normal" fill="#262626" >0.04</text>
<text x="196.50" y="504.40" font-size="10.5" text-anchor="end" font-weight="normal" fill="#262626" >0.08</text>
<text transform="translate(171.00,528.95) rotate(-90)" font-size="12.3" text-anchor="middle" fill="#262626">Prob.</text>
<path d="M218.90,564.20 L218.90,563.30 L219.91,563.30 L219.91,563.30 L220.91,563.30 L220.91,562.40 L221.92,562.40 L221.92,563.30 L222.93,563.30 L222.93,562.40 L223.94,562.40 L223.94,562.40 L224.94,562.40 L224.94,561.50 L225.95,561.50 L225.95,561.50 L226.96,561.50 L226.96,564.20 L227.96,564.20 L227.96,562.40 L228.97,562.40 L228.97,561.50 L229.98,561.50 L229.98,562.40 L230.98,562.40 L230.98,562.40 L231.99,562.40 L231.99,561.50 L233.00,561.50 L233.00,558.80 L234.01,558.80 L234.01,559.70 L235.01,559.70 L235.01,560.60 L236.02,560.60 L236.02,558.80 L237.03,558.80 L237.03,562.40 L238.03,562.40 L238.03,558.80 L239.04,558.80 L239.04,555.20 L240.05,555.20 L240.05,556.10 L241.05,556.10 L241.05,556.10 L242.06,556.10 L242.06,550.70 L243.07,550.70 L243.07,551.60 L244.08,551.60 L244.08,547.10 L245.08,547.10 L245.08,545.30 L246.09,545.30 L246.09,548.90 L247.10,548.90 L247.10,547.10 L248.10,547.10 L248.10,540.80 L249.11,540.80 L249.11,547.10 L250.12,547.10 L250.12,539.00 L251.12,539.00 L251.12,540.80 L252.13,540.80 L252.13,550.70 L253.14,550.70 L253.14,544.40 L254.15,544.40 L254.15,533.60 L255.15,533.60 L255.15,533.60 L256.16,533.60 L256.16,533.60 L257.17,533.60 L257.17,537.20 L258.17,537.20 L258.17,533.60 L259.18,533.60 L259.18,531.80 L260.19,531.80 L260.19,530.90 L261.19,530.90 L261.19,539.90 L262.20,539.90 L262.20,538.10 L263.21,538.10 L263.21,543.50 L264.22,543.50 L264.22,541.70 L265.22,541.70 L265.22,542.60 L266.23,542.60 L266.23,542.60 L267.24,542.60 L267.24,548.90 L268.24,548.90 L268.24,542.60 L269.25,542.60 L269.25,539.90 L270.26,539.90 L270.26,541.70 L271.26,541.70 L271.26,542.60 L272.27,542.60 L272.27,546.20 L273.28,546.20 L273.28,551.60 L274.29,551.60 L274.29,551.60 L275.29,551.60 L275.29,548.00 L276.30,548.00 L276.30,549.80 L277.31,549.80 L277.31,556.10 L278.31,556.10 L278.31,557.00 L279.32,557.00 L279.32,559.70 L280.33,559.70 L280.33,556.10 L281.33,556.10 L281.33,557.00 L282.34,557.00 L282.34,557.00 L283.35,557.00 L283.35,558.80 L284.36,558.80 L284.36,560.60 L285.36,560.60 L285.36,561.50 L286.37,561.50 L286.37,559.70 L287.38,559.70 L287.38,559.70 L288.38,559.70 L288.38,559.70 L289.39,559.70 L289.39,562.40 L290.40,562.40 L290.40,563.30 L291.40,563.30 L291.40,561.50 L292.41,561.50 L292.41,560.60 L293.42,560.60 L293.42,562.40 L294.43,562.40 L294.43,561.50 L295.43,561.50 L295.43,561.50 L296.44,561.50 L296.44,563.30 L297.45,563.30 L297.45,562.40 L298.45,562.40 L298.45,563.30 L299.46,563.30 L299.46,562.40 L300.47,562.40 L300.47,562.40 L301.47,562.40 L301.47,563.30 L302.48,563.30 L302.48,563.30 L303.49,563.30 L303.49,563.30 L304.50,563.30 L304.50,562.40 L305.50,562.40 L305.50,563.30 L306.51,563.30 L306.51,563.30 L307.52,563.30 L307.52,564.20 L308.52,564.20 L308.52,563.30 L309.53,563.30 L309.53,563.30 L310.54,563.30 L310.54,563.30 L311.54,563.30 L311.54,563.30 L312.55,563.30 L312.55,563.30 L313.56,563.30 L313.56,564.20 L314.57,564.20 L314.57,564.20 L315.57,564.20 L315.57,564.20" stroke="#a89888" stroke-width="1.2" fill="none" stroke-linejoin="miter"/>
<path d="M229.30,564.20 L229.30,563.10 L230.31,563.10 L230.31,563.10 L231.31,563.10 L231.31,564.20 L232.32,564.20 L232.32,563.10 L233.33,563.10 L233.33,562.00 L234.34,562.00 L234.34,564.20 L235.34,564.20 L235.34,563.10 L236.35,563.10 L236.35,563.10 L237.36,563.10 L237.36,563.10 L238.36,563.10 L238.36,559.80 L239.37,559.80 L239.37,560.90 L240.38,560.90 L240.38,557.60 L241.38,557.60 L241.38,558.70 L242.39,558.70 L242.39,553.20 L243.40,553.20 L243.40,554.30 L244.41,554.30 L244.41,553.20 L245.41,553.20 L245.41,549.90 L246.42,549.90 L246.42,555.40 L247.43,555.40 L247.43,545.50 L248.43,545.50 L248.43,541.10 L249.44,541.10 L249.44,538.90 L250.45,538.90 L250.45,542.20 L251.45,542.20 L251.45,536.70 L252.46,536.70 L252.46,537.80 L253.47,537.80 L253.47,541.10 L254.48,541.10 L254.48,534.50 L255.48,534.50 L255.48,543.30 L256.49,543.30 L256.49,527.90 L257.50,527.90 L257.50,529.00 L258.50,529.00 L258.50,521.30 L259.51,521.30 L259.51,529.00 L260.52,529.00 L260.52,510.70 L261.52,510.70 L261.52,542.20 L262.53,542.20 L262.53,533.40 L263.54,533.40 L263.54,530.10 L264.55,530.10 L264.55,526.80 L265.55,526.80 L265.55,534.50 L266.56,534.50 L266.56,526.80 L267.57,526.80 L267.57,526.80 L268.57,526.80 L268.57,533.40 L269.58,533.40 L269.58,526.80 L270.59,526.80 L270.59,527.90 L271.59,527.90 L271.59,544.40 L272.60,544.40 L272.60,545.50 L273.61,545.50 L273.61,540.00 L274.62,540.00 L274.62,545.50 L275.62,545.50 L275.62,552.10 L276.63,552.10 L276.63,554.30 L277.64,554.30 L277.64,549.90 L278.64,549.90 L278.64,554.30 L279.65,554.30 L279.65,556.50 L280.66,556.50 L280.66,560.90 L281.66,560.90 L281.66,556.50 L282.67,556.50 L282.67,558.70 L283.68,558.70 L283.68,558.70 L284.69,558.70 L284.69,558.70 L285.69,558.70 L285.69,560.90 L286.70,560.90 L286.70,562.00 L287.71,562.00 L287.71,560.90 L288.71,560.90 L288.71,562.00 L289.72,562.00 L289.72,564.20 L290.73,564.20 L290.73,562.00 L291.73,562.00 L291.73,562.00 L292.74,562.00 L292.74,563.10 L293.75,563.10 L293.75,563.10 L294.76,563.10 L294.76,563.10 L295.76,563.10 L295.76,563.10 L296.77,563.10 L296.77,563.10 L297.78,563.10 L297.78,563.10 L298.78,563.10 L298.78,563.10 L299.79,563.10 L299.79,564.20 L300.80,564.20 L300.80,564.20" stroke="#8e3fa6" stroke-width="1.3" fill="none" stroke-linejoin="miter"/>
<line x1="269.00" y1="513.30" x2="277.00" y2="513.30" stroke="#8e3fa6" stroke-width="1.4" />
<text x="281.00" y="515.90" font-size="9.7" text-anchor="start" font-weight="normal" fill="#000" >Within-f.-type</text>
<line x1="269.00" y1="523.20" x2="277.00" y2="523.20" stroke="#a89888" stroke-width="1.4" />
<text x="279.50" y="525.80" font-size="9.7" text-anchor="start" font-weight="normal" fill="#000" >Across-f.-type</text>
<line x1="199.90" y1="564.20" x2="199.90" y2="562.20" stroke="#262626" stroke-width="1" />
<text x="198.40" y="575.30" font-size="10.5" text-anchor="middle" font-weight="normal" fill="#262626" >-0.6</text>
<line x1="260.50" y1="564.20" x2="260.50" y2="562.20" stroke="#262626" stroke-width="1" />
<text x="260.50" y="575.30" font-size="10.5" text-anchor="middle" font-weight="normal" fill="#262626" >0</text>
<line x1="321.10" y1="564.20" x2="321.10" y2="562.20" stroke="#262626" stroke-width="1" />
<text x="321.10" y="575.30" font-size="10.5" text-anchor="middle" font-weight="normal" fill="#262626" >0.6</text>
<text x="261.30" y="585.80" font-size="12.6" text-anchor="middle" font-weight="normal" fill="#262626" >Noise Correlation</text>
<text x="347.00" y="183.00" font-size="16" text-anchor="start" font-weight="bold" fill="#000" >f</text>
<text x="437.60" y="211.50" font-size="11" text-anchor="middle" font-weight="normal" fill="#000" >ROC</text>
<line x1="390.20" y1="219.30" x2="390.20" y2="318.30" stroke="#262626" stroke-width="1" />
<line x1="390.20" y1="317.80" x2="488.60" y2="317.80" stroke="#262626" stroke-width="1" />
<line x1="390.20" y1="317.80" x2="392.20" y2="317.80" stroke="#262626" stroke-width="1" />
<line x1="390.20" y1="317.80" x2="390.20" y2="315.80" stroke="#262626" stroke-width="1" />
<line x1="390.20" y1="268.80" x2="392.20" y2="268.80" stroke="#262626" stroke-width="1" />
<line x1="439.40" y1="317.80" x2="439.40" y2="315.80" stroke="#262626" stroke-width="1" />
<line x1="390.20" y1="219.80" x2="392.20" y2="219.80" stroke="#262626" stroke-width="1" />
<line x1="488.60" y1="317.80" x2="488.60" y2="315.80" stroke="#262626" stroke-width="1" />
<text x="388.40" y="223.40" font-size="10.5" text-anchor="end" font-weight="normal" fill="#262626" >1</text>
<text x="388.40" y="272.40" font-size="10.5" text-anchor="end" font-weight="normal" fill="#262626" >0.5</text>
<text x="385.20" y="328.80" font-size="10.5" text-anchor="middle" font-weight="normal" fill="#262626" >0</text>
<text x="439.40" y="328.80" font-size="10.5" text-anchor="middle" font-weight="normal" fill="#262626" >0.5</text>
<text x="488.10" y="328.80" font-size="10.5" text-anchor="middle" font-weight="normal" fill="#262626" >1</text>
<text x="441.90" y="340.50" font-size="13.2" text-anchor="middle" font-weight="normal" fill="#262626" >F.P.R.</text>
<text transform="translate(367.80,268.80) rotate(-90)" font-size="13.2" text-anchor="middle" fill="#262626">T.P.R.</text>
<line x1="390.20" y1="317.80" x2="488.60" y2="219.80" stroke="#1a1a1a" stroke-width="0.9" stroke-dasharray="3,2.2"/>
<path d="M390.20,317.80 L397.09,315.84 L405.94,309.96 L414.80,298.20 L424.64,285.46 L436.45,269.78 L444.32,259.00 L451.21,251.16 L459.08,241.36 L468.92,233.52 L476.79,224.70 L481.71,221.76 L488.60,219.80" stroke="#7d6453" stroke-width="1.6" fill="none" />
<path d="M390.20,317.80 L390.20,268.80 L390.50,244.30 L391.18,236.46 L392.17,231.56 L394.14,227.64 L400.04,224.70 L409.88,222.25 L419.72,220.78 L434.48,219.80 L488.60,219.80" stroke="#d42a33" stroke-width="1.6" fill="none" />
<line x1="418.20" y1="300.00" x2="428.20" y2="300.00" stroke="#d42a33" stroke-width="1.6" />
<text x="432.70" y="302.80" font-size="9.8" text-anchor="start" font-weight="normal" fill="#000" >selective</text>
<line x1="418.20" y1="312.00" x2="428.20" y2="312.00" stroke="#7d6453" stroke-width="1.6" />
<text x="432.70" y="314.80" font-size="9.8" text-anchor="start" font-weight="normal" fill="#000" >non-selective</text>
<text x="346.50" y="391.50" font-size="16" text-anchor="start" font-weight="bold" fill="#000" >j</text>
<text x="441.00" y="436.00" font-size="11" text-anchor="middle" font-weight="normal" fill="#000" >ROC</text>
<line x1="390.00" y1="444.90" x2="390.00" y2="544.00" stroke="#262626" stroke-width="1" />
<line x1="390.00" y1="543.50" x2="488.00" y2="543.50" stroke="#262626" stroke-width="1" />
<line x1="390.00" y1="543.50" x2="392.00" y2="543.50" stroke="#262626" stroke-width="1" />
<line x1="390.00" y1="543.50" x2="390.00" y2="541.50" stroke="#262626" stroke-width="1" />
<line x1="390.00" y1="494.45" x2="392.00" y2="494.45" stroke="#262626" stroke-width="1" />
<line x1="439.00" y1="543.50" x2="439.00" y2="541.50" stroke="#262626" stroke-width="1" />
<line x1="390.00" y1="445.40" x2="392.00" y2="445.40" stroke="#262626" stroke-width="1" />
<line x1="488.00" y1="543.50" x2="488.00" y2="541.50" stroke="#262626" stroke-width="1" />
<text x="388.20" y="449.00" font-size="10.5" text-anchor="end" font-weight="normal" fill="#262626" >1</text>
<text x="388.20" y="498.05" font-size="10.5" text-anchor="end" font-weight="normal" fill="#262626" >0.5</text>
<text x="385.00" y="554.50" font-size="10.5" text-anchor="middle" font-weight="normal" fill="#262626" >0</text>
<text x="439.00" y="554.50" font-size="10.5" text-anchor="middle" font-weight="normal" fill="#262626" >0.5</text>
<text x="487.50" y="554.50" font-size="10.5" text-anchor="middle" font-weight="normal" fill="#262626" >1</text>
<text x="441.50" y="566.50" font-size="13.2" text-anchor="middle" font-weight="normal" fill="#262626" >F.P.R.</text>
<text transform="translate(367.60,494.45) rotate(-90)" font-size="13.2" text-anchor="middle" fill="#262626">T.P.R.</text>
<line x1="390.00" y1="543.50" x2="488.00" y2="445.40" stroke="#1a1a1a" stroke-width="0.9" stroke-dasharray="3,2.2"/>
<path d="M390.00,543.50 L394.90,542.52 L404.70,535.65 L414.50,525.84 L422.34,517.01 L429.20,507.20 L439.00,496.41 L443.90,488.56 L448.80,479.74 L456.64,472.87 L464.48,465.02 L472.32,457.17 L478.20,451.29 L483.10,447.36 L488.00,445.40" stroke="#7d6453" stroke-width="1.6" fill="none" />
<path d="M390.00,543.50 L390.00,494.45 L390.98,482.68 L392.45,470.91 L394.41,462.08 L396.37,457.17 L399.80,455.70 L409.60,453.25 L419.40,451.29 L434.10,450.30 L439.00,449.32 L444.88,447.85 L458.60,446.38 L473.30,445.40 L488.00,445.40" stroke="#d42a33" stroke-width="1.6" fill="none" />
<text x="497.00" y="183.50" font-size="16" text-anchor="start" font-weight="bold" fill="#000" >g</text>
<line x1="541.50" y1="198.20" x2="541.50" y2="340.00" stroke="#262626" stroke-width="1" />
<line x1="541.50" y1="339.50" x2="675.50" y2="339.50" stroke="#262626" stroke-width="1" />
<line x1="541.50" y1="339.50" x2="544.50" y2="339.50" stroke="#262626" stroke-width="1" />
<line x1="541.50" y1="316.03" x2="544.50" y2="316.03" stroke="#262626" stroke-width="1" />
<line x1="541.50" y1="292.57" x2="544.50" y2="292.57" stroke="#262626" stroke-width="1" />
<line x1="541.50" y1="269.10" x2="544.50" y2="269.10" stroke="#262626" stroke-width="1" />
<line x1="541.50" y1="245.63" x2="544.50" y2="245.63" stroke="#262626" stroke-width="1" />
<line x1="541.50" y1="222.17" x2="544.50" y2="222.17" stroke="#262626" stroke-width="1" />
<line x1="541.50" y1="198.70" x2="544.50" y2="198.70" stroke="#262626" stroke-width="1" />
<text x="539.70" y="342.90" font-size="10.2" text-anchor="end" font-weight="normal" fill="#262626" >0.4</text>
<text x="539.70" y="295.97" font-size="10.2" text-anchor="end" font-weight="normal" fill="#262626" >0.6</text>
<text x="539.70" y="249.03" font-size="10.2" text-anchor="end" font-weight="normal" fill="#262626" >0.8</text>
<text x="539.70" y="202.10" font-size="10.2" text-anchor="end" font-weight="normal" fill="#262626" >1</text>
<text transform="translate(519.50,266.40) rotate(-90)" font-size="12.3" text-anchor="middle" fill="#262626">AUC</text>
<line x1="566.50" y1="339.50" x2="566.50" y2="337.00" stroke="#262626" stroke-width="1" />
<line x1="609.80" y1="339.50" x2="609.80" y2="337.00" stroke="#262626" stroke-width="1" />
<line x1="658.20" y1="339.50" x2="658.20" y2="337.00" stroke="#262626" stroke-width="1" />
<line x1="565.20" y1="313.50" x2="609.80" y2="201.80" stroke="#4d4d4d" stroke-width="0.7" stroke-dasharray="3,2"/>
<line x1="565.20" y1="308.20" x2="609.80" y2="213.60" stroke="#4d4d4d" stroke-width="0.7" stroke-dasharray="3,2"/>
<line x1="565.20" y1="310.80" x2="609.80" y2="215.70" stroke="#4d4d4d" stroke-width="0.7" stroke-dasharray="3,2"/>
<line x1="565.20" y1="317.40" x2="609.80" y2="218.90" stroke="#4d4d4d" stroke-width="0.7" stroke-dasharray="3,2"/>
<line x1="565.20" y1="322.60" x2="609.80" y2="223.60" stroke="#4d4d4d" stroke-width="0.7" stroke-dasharray="3,2"/>
<line x1="565.20" y1="283.20" x2="609.80" y2="225.50" stroke="#4d4d4d" stroke-width="0.7" stroke-dasharray="3,2"/>
<line x1="565.20" y1="293.80" x2="609.80" y2="232.00" stroke="#4d4d4d" stroke-width="0.7" stroke-dasharray="3,2"/>
<line x1="565.20" y1="308.20" x2="609.80" y2="234.70" stroke="#4d4d4d" stroke-width="0.7" stroke-dasharray="3,2"/>
<line x1="565.20" y1="310.80" x2="609.80" y2="254.40" stroke="#4d4d4d" stroke-width="0.7" stroke-dasharray="3,2"/>
<line x1="565.20" y1="317.40" x2="609.80" y2="257.00" stroke="#4d4d4d" stroke-width="0.7" stroke-dasharray="3,2"/>
<line x1="565.20" y1="322.60" x2="609.80" y2="259.60" stroke="#4d4d4d" stroke-width="0.7" stroke-dasharray="3,2"/>
<line x1="565.20" y1="293.80" x2="609.80" y2="276.70" stroke="#4d4d4d" stroke-width="0.7" stroke-dasharray="3,2"/>
<line x1="565.20" y1="291.10" x2="609.80" y2="288.50" stroke="#4d4d4d" stroke-width="0.7" stroke-dasharray="3,2"/>
<line x1="565.20" y1="313.50" x2="609.80" y2="299.00" stroke="#4d4d4d" stroke-width="0.7" stroke-dasharray="3,2"/>
<line x1="565.20" y1="317.40" x2="609.80" y2="301.60" stroke="#4d4d4d" stroke-width="0.7" stroke-dasharray="3,2"/>
<line x1="565.20" y1="322.60" x2="609.80" y2="323.20" stroke="#4d4d4d" stroke-width="0.7" stroke-dasharray="3,2"/>
<line x1="565.20" y1="283.20" x2="609.80" y2="257.00" stroke="#4d4d4d" stroke-width="0.7" stroke-dasharray="3,2"/>
<line x1="565.20" y1="310.80" x2="609.80" y2="218.90" stroke="#4d4d4d" stroke-width="0.7" stroke-dasharray="3,2"/>
<line x1="609.80" y1="201.80" x2="656.70" y2="223.40" stroke="#4d4d4d" stroke-width="0.7" stroke-dasharray="3,2"/>
<line x1="609.80" y1="213.60" x2="656.70" y2="223.40" stroke="#4d4d4d" stroke-width="0.7" stroke-dasharray="3,2"/>
<line x1="609.80" y1="215.70" x2="656.70" y2="239.60" stroke="#4d4d4d" stroke-width="0.7" stroke-dasharray="3,2"/>
<line x1="609.80" y1="218.90" x2="656.70" y2="252.30" stroke="#4d4d4d" stroke-width="0.7" stroke-dasharray="3,2"/>
<line x1="609.80" y1="223.60" x2="656.70" y2="296.40" stroke="#4d4d4d" stroke-width="0.7" stroke-dasharray="3,2"/>
<line x1="609.80" y1="225.50" x2="656.70" y2="301.60" stroke="#4d4d4d" stroke-width="0.7" stroke-dasharray="3,2"/>
<line x1="609.80" y1="232.00" x2="656.70" y2="306.90" stroke="#4d4d4d" stroke-width="0.7" stroke-dasharray="3,2"/>
<line x1="609.80" y1="234.70" x2="656.70" y2="299.00" stroke="#4d4d4d" stroke-width="0.7" stroke-dasharray="3,2"/>
<line x1="609.80" y1="254.40" x2="656.70" y2="272.00" stroke="#4d4d4d" stroke-width="0.7" stroke-dasharray="3,2"/>
<line x1="609.80" y1="257.00" x2="656.70" y2="291.10" stroke="#4d4d4d" stroke-width="0.7" stroke-dasharray="3,2"/>
<line x1="609.80" y1="259.60" x2="656.70" y2="306.90" stroke="#4d4d4d" stroke-width="0.7" stroke-dasharray="3,2"/>
<line x1="609.80" y1="276.70" x2="656.70" y2="276.70" stroke="#4d4d4d" stroke-width="0.7" stroke-dasharray="3,2"/>
<line x1="609.80" y1="288.50" x2="656.70" y2="296.40" stroke="#4d4d4d" stroke-width="0.7" stroke-dasharray="3,2"/>
<line x1="609.80" y1="299.00" x2="656.70" y2="318.70" stroke="#4d4d4d" stroke-width="0.7" stroke-dasharray="3,2"/>
<line x1="609.80" y1="301.60" x2="656.70" y2="313.50" stroke="#4d4d4d" stroke-width="0.7" stroke-dasharray="3,2"/>
<line x1="609.80" y1="323.20" x2="656.70" y2="327.90" stroke="#4d4d4d" stroke-width="0.7" stroke-dasharray="3,2"/>
<line x1="609.80" y1="218.90" x2="656.70" y2="301.60" stroke="#4d4d4d" stroke-width="0.7" stroke-dasharray="3,2"/>
<line x1="609.80" y1="232.00" x2="656.70" y2="324.00" stroke="#4d4d4d" stroke-width="0.7" stroke-dasharray="3,2"/>
<circle cx="565.20" cy="283.20" r="2.4" fill="#786457" stroke="none" stroke-width="0"/>
<circle cx="565.20" cy="291.10" r="2.4" fill="#786457" stroke="none" stroke-width="0"/>
<circle cx="565.20" cy="293.80" r="2.4" fill="#786457" stroke="none" stroke-width="0"/>
<circle cx="565.20" cy="308.20" r="2.4" fill="#786457" stroke="none" stroke-width="0"/>
<circle cx="565.20" cy="310.80" r="2.4" fill="#786457" stroke="none" stroke-width="0"/>
<circle cx="565.20" cy="313.50" r="2.4" fill="#786457" stroke="none" stroke-width="0"/>
<circle cx="565.20" cy="317.40" r="2.4" fill="#786457" stroke="none" stroke-width="0"/>
<circle cx="565.20" cy="322.60" r="2.4" fill="#786457" stroke="none" stroke-width="0"/>
<circle cx="609.80" cy="201.80" r="2.4" fill="#c0272d" stroke="none" stroke-width="0"/>
<circle cx="609.80" cy="213.60" r="2.4" fill="#c0272d" stroke="none" stroke-width="0"/>
<circle cx="609.80" cy="215.70" r="2.4" fill="#c0272d" stroke="none" stroke-width="0"/>
<circle cx="609.80" cy="218.90" r="2.4" fill="#c0272d" stroke="none" stroke-width="0"/>
<circle cx="609.80" cy="223.60" r="2.4" fill="#c0272d" stroke="none" stroke-width="0"/>
<circle cx="609.80" cy="225.50" r="2.4" fill="#c0272d" stroke="none" stroke-width="0"/>
<circle cx="609.80" cy="232.00" r="2.4" fill="#c0272d" stroke="none" stroke-width="0"/>
<circle cx="609.80" cy="234.70" r="2.4" fill="#c0272d" stroke="none" stroke-width="0"/>
<circle cx="609.80" cy="254.40" r="2.4" fill="#c0272d" stroke="none" stroke-width="0"/>
<circle cx="609.80" cy="257.00" r="2.4" fill="#c0272d" stroke="none" stroke-width="0"/>
<circle cx="609.80" cy="259.60" r="2.4" fill="#c0272d" stroke="none" stroke-width="0"/>
<circle cx="609.80" cy="276.70" r="2.4" fill="#c0272d" stroke="none" stroke-width="0"/>
<circle cx="609.80" cy="288.50" r="2.4" fill="#c0272d" stroke="none" stroke-width="0"/>
<circle cx="609.80" cy="299.00" r="2.4" fill="#c0272d" stroke="none" stroke-width="0"/>
<circle cx="609.80" cy="301.60" r="2.4" fill="#c0272d" stroke="none" stroke-width="0"/>
<circle cx="609.80" cy="323.20" r="2.4" fill="#c0272d" stroke="none" stroke-width="0"/>
<circle cx="656.70" cy="223.40" r="2.5" fill="#000" stroke="none" stroke-width="0"/>
<circle cx="656.70" cy="239.60" r="2.5" fill="#000" stroke="none" stroke-width="0"/>
<circle cx="656.70" cy="252.30" r="2.5" fill="#000" stroke="none" stroke-width="0"/>
<circle cx="656.70" cy="272.00" r="2.5" fill="#000" stroke="none" stroke-width="0"/>
<circle cx="656.70" cy="274.00" r="2.5" fill="#000" stroke="none" stroke-width="0"/>
<circle cx="656.70" cy="276.70" r="2.5" fill="#000" stroke="none" stroke-width="0"/>
<circle cx="656.70" cy="291.10" r="2.5" fill="#000" stroke="none" stroke-width="0"/>
<circle cx="656.70" cy="296.40" r="2.5" fill="#000" stroke="none" stroke-width="0"/>
<circle cx="656.70" cy="299.00" r="2.5" fill="#000" stroke="none" stroke-width="0"/>
<circle cx="656.70" cy="301.60" r="2.5" fill="#000" stroke="none" stroke-width="0"/>
<circle cx="656.70" cy="306.90" r="2.5" fill="#000" stroke="none" stroke-width="0"/>
<circle cx="656.70" cy="313.50" r="2.5" fill="#000" stroke="none" stroke-width="0"/>
<circle cx="656.70" cy="318.70" r="2.5" fill="#000" stroke="none" stroke-width="0"/>
<circle cx="656.70" cy="324.00" r="2.5" fill="#000" stroke="none" stroke-width="0"/>
<circle cx="656.70" cy="327.90" r="2.5" fill="#000" stroke="none" stroke-width="0"/>
<circle cx="565.20" cy="313.50" r="2.5" fill="#786457" stroke="#00ee00" stroke-width="1.6"/>
<circle cx="609.80" cy="201.80" r="2.5" fill="#c0272d" stroke="#00ee00" stroke-width="1.6"/>
<line x1="557.60" y1="306.90" x2="573.10" y2="306.90" stroke="#ff0000" stroke-width="1.6" />
<line x1="602.30" y1="256.70" x2="617.50" y2="256.70" stroke="#ff0000" stroke-width="1.6" />
<line x1="648.80" y1="289.80" x2="664.50" y2="289.80" stroke="#ff0000" stroke-width="1.6" />
<line x1="563.70" y1="196.30" x2="608.50" y2="196.30" stroke="#111" stroke-width="1" />
<line x1="612.50" y1="196.30" x2="659.60" y2="196.30" stroke="#111" stroke-width="1" />
<text x="586.30" y="197.70" font-size="15" text-anchor="middle" font-weight="bold" fill="#111" letter-spacing="0.6">***</text>
<text x="634.80" y="197.70" font-size="15" text-anchor="middle" font-weight="bold" fill="#111" letter-spacing="0.6">***</text>
<text x="568.70" y="351.60" font-size="10.8" text-anchor="middle" font-weight="normal" fill="#262626" >N.S.</text>
<text x="612.40" y="351.60" font-size="10.8" text-anchor="middle" font-weight="normal" fill="#262626" >S.</text>
<text x="660.60" y="351.60" font-size="10.8" text-anchor="middle" font-weight="normal" fill="#262626" >S.</text>
<path d="M556.90,353.50 L556.90,356.80 L617.70,356.80 L617.70,353.50" stroke="#262626" stroke-width="1" fill="none" />
<line x1="588.30" y1="356.80" x2="588.30" y2="360.10" stroke="#262626" stroke-width="1" />
<path d="M643.70,353.50 L643.70,356.80 L674.60,356.80 L674.60,353.50" stroke="#262626" stroke-width="1" fill="none" />
<line x1="659.20" y1="356.80" x2="659.20" y2="360.10" stroke="#262626" stroke-width="1" />
<text x="587.60" y="371.60" font-size="12.3" text-anchor="middle" font-weight="normal" fill="#262626" >Noise cor.</text>
<text x="655.60" y="371.60" font-size="12.3" text-anchor="middle" font-weight="normal" fill="#262626" >Signal cor.</text>
<text x="497.00" y="391.50" font-size="16" text-anchor="start" font-weight="bold" fill="#000" >k</text>
<line x1="542.50" y1="413.70" x2="542.50" y2="556.20" stroke="#262626" stroke-width="1" />
<line x1="542.50" y1="555.70" x2="679.70" y2="555.70" stroke="#262626" stroke-width="1" />
<line x1="542.50" y1="555.70" x2="545.50" y2="555.70" stroke="#262626" stroke-width="1" />
<line x1="542.50" y1="532.12" x2="545.50" y2="532.12" stroke="#262626" stroke-width="1" />
<line x1="542.50" y1="508.53" x2="545.50" y2="508.53" stroke="#262626" stroke-width="1" />
<line x1="542.50" y1="484.95" x2="545.50" y2="484.95" stroke="#262626" stroke-width="1" />
<line x1="542.50" y1="461.37" x2="545.50" y2="461.37" stroke="#262626" stroke-width="1" />
<line x1="542.50" y1="437.78" x2="545.50" y2="437.78" stroke="#262626" stroke-width="1" />
<line x1="542.50" y1="414.20" x2="545.50" y2="414.20" stroke="#262626" stroke-width="1" />
<text x="540.70" y="559.10" font-size="10.2" text-anchor="end" font-weight="normal" fill="#262626" >0.4</text>
<text x="540.70" y="511.93" font-size="10.2" text-anchor="end" font-weight="normal" fill="#262626" >0.6</text>
<text x="540.70" y="464.77" font-size="10.2" text-anchor="end" font-weight="normal" fill="#262626" >0.8</text>
<text x="540.70" y="417.60" font-size="10.2" text-anchor="end" font-weight="normal" fill="#262626" >1</text>
<text transform="translate(520.50,482.25) rotate(-90)" font-size="12.3" text-anchor="middle" fill="#262626">AUC</text>
<line x1="563.30" y1="555.70" x2="563.30" y2="553.20" stroke="#262626" stroke-width="1" />
<line x1="609.40" y1="555.70" x2="609.40" y2="553.20" stroke="#262626" stroke-width="1" />
<line x1="659.00" y1="555.70" x2="659.00" y2="553.20" stroke="#262626" stroke-width="1" />
<line x1="562.90" y1="524.30" x2="610.70" y2="419.50" stroke="#4d4d4d" stroke-width="0.7" stroke-dasharray="3,2"/>
<line x1="562.90" y1="521.50" x2="610.70" y2="425.20" stroke="#4d4d4d" stroke-width="0.7" stroke-dasharray="3,2"/>
<line x1="562.90" y1="515.30" x2="610.70" y2="435.30" stroke="#4d4d4d" stroke-width="0.7" stroke-dasharray="3,2"/>
<line x1="562.90" y1="532.10" x2="610.70" y2="438.00" stroke="#4d4d4d" stroke-width="0.7" stroke-dasharray="3,2"/>
<line x1="562.90" y1="503.90" x2="610.70" y2="440.70" stroke="#4d4d4d" stroke-width="0.7" stroke-dasharray="3,2"/>
<line x1="562.90" y1="542.40" x2="610.70" y2="443.40" stroke="#4d4d4d" stroke-width="0.7" stroke-dasharray="3,2"/>
<line x1="562.90" y1="524.30" x2="610.70" y2="446.70" stroke="#4d4d4d" stroke-width="0.7" stroke-dasharray="3,2"/>
<line x1="562.90" y1="521.50" x2="610.70" y2="461.00" stroke="#4d4d4d" stroke-width="0.7" stroke-dasharray="3,2"/>
<line x1="562.90" y1="515.30" x2="610.70" y2="465.70" stroke="#4d4d4d" stroke-width="0.7" stroke-dasharray="3,2"/>
<line x1="562.90" y1="532.10" x2="610.70" y2="467.80" stroke="#4d4d4d" stroke-width="0.7" stroke-dasharray="3,2"/>
<line x1="562.90" y1="503.90" x2="610.70" y2="476.00" stroke="#4d4d4d" stroke-width="0.7" stroke-dasharray="3,2"/>
<line x1="562.90" y1="542.40" x2="610.70" y2="481.40" stroke="#4d4d4d" stroke-width="0.7" stroke-dasharray="3,2"/>
<line x1="562.90" y1="524.30" x2="610.70" y2="484.60" stroke="#4d4d4d" stroke-width="0.7" stroke-dasharray="3,2"/>
<line x1="562.90" y1="521.50" x2="610.70" y2="487.40" stroke="#4d4d4d" stroke-width="0.7" stroke-dasharray="3,2"/>
<line x1="562.90" y1="515.30" x2="610.70" y2="492.20" stroke="#4d4d4d" stroke-width="0.7" stroke-dasharray="3,2"/>
<line x1="562.90" y1="532.10" x2="610.70" y2="503.10" stroke="#4d4d4d" stroke-width="0.7" stroke-dasharray="3,2"/>
<line x1="562.90" y1="503.90" x2="610.70" y2="508.50" stroke="#4d4d4d" stroke-width="0.7" stroke-dasharray="3,2"/>
<line x1="562.90" y1="542.40" x2="610.70" y2="518.80" stroke="#4d4d4d" stroke-width="0.7" stroke-dasharray="3,2"/>
<line x1="562.90" y1="524.30" x2="610.70" y2="531.00" stroke="#4d4d4d" stroke-width="0.7" stroke-dasharray="3,2"/>
<line x1="562.90" y1="521.50" x2="610.70" y2="534.80" stroke="#4d4d4d" stroke-width="0.7" stroke-dasharray="3,2"/>
<line x1="610.70" y1="419.50" x2="659.00" y2="451.50" stroke="#4d4d4d" stroke-width="0.7" stroke-dasharray="3,2"/>
<line x1="610.70" y1="425.20" x2="659.00" y2="454.30" stroke="#4d4d4d" stroke-width="0.7" stroke-dasharray="3,2"/>
<line x1="610.70" y1="435.30" x2="659.00" y2="458.30" stroke="#4d4d4d" stroke-width="0.7" stroke-dasharray="3,2"/>
<line x1="610.70" y1="438.00" x2="659.00" y2="480.00" stroke="#4d4d4d" stroke-width="0.7" stroke-dasharray="3,2"/>
<line x1="610.70" y1="440.70" x2="659.00" y2="462.90" stroke="#4d4d4d" stroke-width="0.7" stroke-dasharray="3,2"/>
<line x1="610.70" y1="443.40" x2="659.00" y2="466.50" stroke="#4d4d4d" stroke-width="0.7" stroke-dasharray="3,2"/>
<line x1="610.70" y1="446.70" x2="659.00" y2="482.70" stroke="#4d4d4d" stroke-width="0.7" stroke-dasharray="3,2"/>
<line x1="610.70" y1="461.00" x2="659.00" y2="488.20" stroke="#4d4d4d" stroke-width="0.7" stroke-dasharray="3,2"/>
<line x1="610.70" y1="465.70" x2="659.00" y2="485.50" stroke="#4d4d4d" stroke-width="0.7" stroke-dasharray="3,2"/>
<line x1="610.70" y1="467.80" x2="659.00" y2="496.30" stroke="#4d4d4d" stroke-width="0.7" stroke-dasharray="3,2"/>
<line x1="610.70" y1="476.00" x2="659.00" y2="492.20" stroke="#4d4d4d" stroke-width="0.7" stroke-dasharray="3,2"/>
<line x1="610.70" y1="481.40" x2="659.00" y2="504.40" stroke="#4d4d4d" stroke-width="0.7" stroke-dasharray="3,2"/>
<line x1="610.70" y1="484.60" x2="659.00" y2="501.70" stroke="#4d4d4d" stroke-width="0.7" stroke-dasharray="3,2"/>
<line x1="610.70" y1="487.40" x2="659.00" y2="507.20" stroke="#4d4d4d" stroke-width="0.7" stroke-dasharray="3,2"/>
<line x1="610.70" y1="492.20" x2="659.00" y2="513.90" stroke="#4d4d4d" stroke-width="0.7" stroke-dasharray="3,2"/>
<line x1="610.70" y1="503.10" x2="659.00" y2="517.20" stroke="#4d4d4d" stroke-width="0.7" stroke-dasharray="3,2"/>
<line x1="610.70" y1="508.50" x2="659.00" y2="525.30" stroke="#4d4d4d" stroke-width="0.7" stroke-dasharray="3,2"/>
<line x1="610.70" y1="518.80" x2="659.00" y2="527.50" stroke="#4d4d4d" stroke-width="0.7" stroke-dasharray="3,2"/>
<line x1="610.70" y1="531.00" x2="659.00" y2="541.10" stroke="#4d4d4d" stroke-width="0.7" stroke-dasharray="3,2"/>
<line x1="610.70" y1="534.80" x2="659.00" y2="544.30" stroke="#4d4d4d" stroke-width="0.7" stroke-dasharray="3,2"/>
<line x1="610.70" y1="446.70" x2="659.00" y2="496.30" stroke="#4d4d4d" stroke-width="0.7" stroke-dasharray="3,2"/>
<line x1="610.70" y1="467.80" x2="659.00" y2="513.90" stroke="#4d4d4d" stroke-width="0.7" stroke-dasharray="3,2"/>
<circle cx="562.90" cy="503.90" r="2.4" fill="#555555" stroke="none" stroke-width="0"/>
<circle cx="562.90" cy="515.30" r="2.4" fill="#555555" stroke="none" stroke-width="0"/>
<circle cx="562.90" cy="521.50" r="2.4" fill="#555555" stroke="none" stroke-width="0"/>
<circle cx="562.90" cy="524.30" r="2.4" fill="#555555" stroke="none" stroke-width="0"/>
<circle cx="562.90" cy="532.10" r="2.4" fill="#555555" stroke="none" stroke-width="0"/>
<circle cx="562.90" cy="542.40" r="2.4" fill="#555555" stroke="none" stroke-width="0"/>
<circle cx="610.70" cy="419.50" r="2.4" fill="#c0272d" stroke="none" stroke-width="0"/>
<circle cx="610.70" cy="425.20" r="2.4" fill="#c0272d" stroke="none" stroke-width="0"/>
<circle cx="610.70" cy="435.30" r="2.4" fill="#c0272d" stroke="none" stroke-width="0"/>
<circle cx="610.70" cy="438.00" r="2.4" fill="#c0272d" stroke="none" stroke-width="0"/>
<circle cx="610.70" cy="440.70" r="2.4" fill="#c0272d" stroke="none" stroke-width="0"/>
<circle cx="610.70" cy="443.40" r="2.4" fill="#c0272d" stroke="none" stroke-width="0"/>
<circle cx="610.70" cy="446.70" r="2.4" fill="#c0272d" stroke="none" stroke-width="0"/>
<circle cx="610.70" cy="461.00" r="2.4" fill="#c0272d" stroke="none" stroke-width="0"/>
<circle cx="610.70" cy="465.70" r="2.4" fill="#c0272d" stroke="none" stroke-width="0"/>
<circle cx="610.70" cy="467.80" r="2.4" fill="#c0272d" stroke="none" stroke-width="0"/>
<circle cx="610.70" cy="476.00" r="2.4" fill="#c0272d" stroke="none" stroke-width="0"/>
<circle cx="610.70" cy="481.40" r="2.4" fill="#c0272d" stroke="none" stroke-width="0"/>
<circle cx="610.70" cy="484.60" r="2.4" fill="#c0272d" stroke="none" stroke-width="0"/>
<circle cx="610.70" cy="487.40" r="2.4" fill="#c0272d" stroke="none" stroke-width="0"/>
<circle cx="610.70" cy="492.20" r="2.4" fill="#c0272d" stroke="none" stroke-width="0"/>
<circle cx="610.70" cy="503.10" r="2.4" fill="#c0272d" stroke="none" stroke-width="0"/>
<circle cx="610.70" cy="508.50" r="2.4" fill="#c0272d" stroke="none" stroke-width="0"/>
<circle cx="610.70" cy="518.80" r="2.4" fill="#c0272d" stroke="none" stroke-width="0"/>
<circle cx="610.70" cy="531.00" r="2.4" fill="#c0272d" stroke="none" stroke-width="0"/>
<circle cx="610.70" cy="534.80" r="2.4" fill="#c0272d" stroke="none" stroke-width="0"/>
<circle cx="659.00" cy="451.50" r="2.5" fill="#000" stroke="none" stroke-width="0"/>
<circle cx="659.00" cy="454.30" r="2.5" fill="#000" stroke="none" stroke-width="0"/>
<circle cx="659.00" cy="458.30" r="2.5" fill="#000" stroke="none" stroke-width="0"/>
<circle cx="659.00" cy="462.90" r="2.5" fill="#000" stroke="none" stroke-width="0"/>
<circle cx="659.00" cy="466.50" r="2.5" fill="#000" stroke="none" stroke-width="0"/>
<circle cx="659.00" cy="480.00" r="2.5" fill="#000" stroke="none" stroke-width="0"/>
<circle cx="659.00" cy="482.70" r="2.5" fill="#000" stroke="none" stroke-width="0"/>
<circle cx="659.00" cy="485.50" r="2.5" fill="#000" stroke="none" stroke-width="0"/>
<circle cx="659.00" cy="488.20" r="2.5" fill="#000" stroke="none" stroke-width="0"/>
<circle cx="659.00" cy="492.20" r="2.5" fill="#000" stroke="none" stroke-width="0"/>
<circle cx="659.00" cy="496.30" r="2.5" fill="#000" stroke="none" stroke-width="0"/>
<circle cx="659.00" cy="501.70" r="2.5" fill="#000" stroke="none" stroke-width="0"/>
<circle cx="659.00" cy="504.40" r="2.5" fill="#000" stroke="none" stroke-width="0"/>
<circle cx="659.00" cy="507.20" r="2.5" fill="#000" stroke="none" stroke-width="0"/>
<circle cx="659.00" cy="513.90" r="2.5" fill="#000" stroke="none" stroke-width="0"/>
<circle cx="659.00" cy="517.20" r="2.5" fill="#000" stroke="none" stroke-width="0"/>
<circle cx="659.00" cy="525.30" r="2.5" fill="#000" stroke="none" stroke-width="0"/>
<circle cx="659.00" cy="527.50" r="2.5" fill="#000" stroke="none" stroke-width="0"/>
<circle cx="659.00" cy="541.10" r="2.5" fill="#000" stroke="none" stroke-width="0"/>
<circle cx="659.00" cy="544.30" r="2.5" fill="#000" stroke="none" stroke-width="0"/>
<circle cx="562.90" cy="524.30" r="2.5" fill="#555555" stroke="#00ee00" stroke-width="1.6"/>
<circle cx="610.70" cy="425.20" r="2.5" fill="#c0272d" stroke="#00ee00" stroke-width="1.6"/>
<line x1="555.30" y1="524.80" x2="570.80" y2="524.80" stroke="#ff0000" stroke-width="1.6" />
<line x1="603.30" y1="471.10" x2="618.80" y2="471.10" stroke="#ff0000" stroke-width="1.6" />
<line x1="650.80" y1="495.00" x2="666.50" y2="495.00" stroke="#ff0000" stroke-width="1.6" />
<line x1="559.90" y1="415.50" x2="661.70" y2="415.50" stroke="#111" stroke-width="1" />
<text x="585.70" y="416.90" font-size="13.6" text-anchor="middle" font-weight="bold" fill="#111" letter-spacing="0.6">***</text>
<text x="638.30" y="416.90" font-size="13.6" text-anchor="middle" font-weight="bold" fill="#111" letter-spacing="0.6">***</text>
<text x="563.00" y="566.90" font-size="10.8" text-anchor="middle" font-weight="normal" fill="#262626" >N.S.</text>
<text x="610.50" y="566.90" font-size="10.8" text-anchor="middle" font-weight="normal" fill="#262626" >S.</text>
<text x="660.10" y="566.90" font-size="10.8" text-anchor="middle" font-weight="normal" fill="#262626" >S.</text>
<path d="M551.00,569.60 L551.00,572.90 L616.60,572.90 L616.60,569.60" stroke="#262626" stroke-width="1" fill="none" />
<line x1="584.50" y1="572.90" x2="584.50" y2="576.20" stroke="#262626" stroke-width="1" />
<path d="M643.30,569.60 L643.30,572.90 L674.40,572.90 L674.40,569.60" stroke="#262626" stroke-width="1" fill="none" />
<line x1="659.20" y1="572.90" x2="659.20" y2="576.20" stroke="#262626" stroke-width="1" />
<text x="587.60" y="586.40" font-size="12.3" text-anchor="middle" font-weight="normal" fill="#262626" >Noise cor.</text>
<text x="655.90" y="586.40" font-size="12.3" text-anchor="middle" font-weight="normal" fill="#262626" >Signal cor.</text>
</svg></body></html>
